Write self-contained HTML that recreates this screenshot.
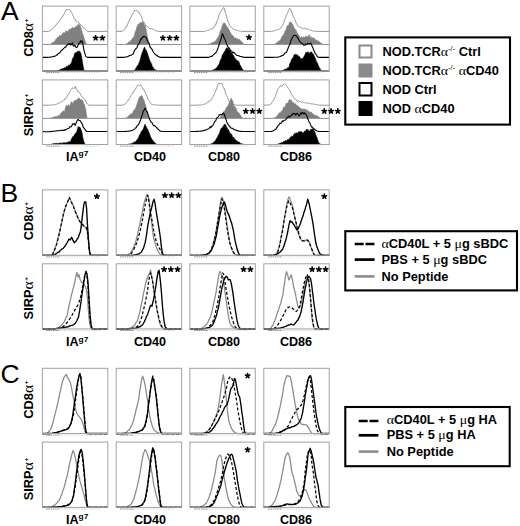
<!DOCTYPE html>
<html><head><meta charset="utf-8">
<style>
html,body{margin:0;padding:0;background:#fff;}
svg{display:block;}
text{font-family:"Liberation Sans",sans-serif;}
.b{font-weight:bold;font-size:12px;}
.L{font-size:26.5px;}
.al{font-family:"Liberation Serif",serif;font-weight:normal;}
.sup{font-size:6px;}
.st{font-family:"Liberation Sans",sans-serif;font-weight:bold;font-size:15px;}
</style></head><body>
<svg width="520" height="526" viewBox="0 0 520 526">
<rect width="520" height="526" fill="#fff"/>
<g>
<path d="M42.4,31.4 L48.8,31.4 L48.8,31.4 L49.5,31 L50.2,30.6 L51,30.3 L51.7,29.9 L52.4,29 L53.1,27.9 L53.9,27.3 L54.6,27 L55.3,25.3 L56,25.3 L56.7,24.7 L57.5,22.9 L58.2,22.7 L58.9,21.2 L59.6,20.4 L60.3,19 L60.9,18.7 L61.5,17.5 L62.1,17.6 L62.8,15.9 L63.5,15.6 L64.2,13.7 L64.9,12.2 L65.6,10.7 L66.4,9.6 L67.1,9.2 L67.8,10.2 L68.5,9.6 L69.5,9.6 L70.4,10.3 L71.4,12.6 L72.1,13.4 L72.8,14.8 L73.5,16.4 L74.1,18.7 L74.8,19.7 L75.4,19.5 L76,21.1 L76.6,21.9 L77.2,21.6 L77.9,22.3 L78.6,22.2 L79.3,23.8 L80.1,23.9 L80.7,24.8 L81.3,26 L81.9,26.1 L82.5,26.6 L83.1,27.8 L83.7,28.5 L84.4,28.1 L85,28.8 L85.7,29.7 L86.3,30.4 L86.9,30.8 L87.6,31.1 L88.2,31.4 L88.2,31.4 L107.8,31.4" fill="none" stroke="#8c8c8c" stroke-width="0.9" stroke-linejoin="round"/>
<path d="M42.4,44.5 L49.8,44.5 L49.8,44.5 L50.4,44 L51.1,43.6 L51.7,43.3 L52.3,42.7 L53,42.4 L53.6,42 L54.3,41.5 L55.1,40.7 L55.8,39.2 L56.5,39.1 L57.2,37.5 L57.9,37 L58.7,37.7 L59.4,35.4 L60.1,35.5 L60.8,36 L61.5,35.1 L62.3,33.8 L62.9,33.3 L63.5,32.4 L64.1,33.3 L64.7,32.5 L65.3,32.6 L65.9,30.8 L66.5,30.9 L67.1,31.1 L68,32.3 L68.8,29.7 L69.5,29.2 L70.1,28.9 L70.7,29.8 L71.3,28.5 L71.9,27.8 L72.6,27.6 L73.3,27.9 L74,28.1 L74.8,27.3 L75.4,27.2 L76,26.2 L76.6,26.5 L77.2,25.2 L77.9,25.4 L78.6,23.9 L79.3,24.6 L80.1,25.9 L80.8,27.6 L81.5,29.9 L82.1,32.5 L82.8,34.3 L83.4,35.6 L84.1,38.3 L84.9,40.5 L85.6,42.2 L86.3,44 L86.8,44.5 L86.8,44.5 L107.8,44.5 Z" fill="#808080" stroke="#808080" stroke-width="0.6"/>
<path d="M42.4,57.4 L47.8,57.4 L47.8,57.4 L48.5,57.3 L49.1,57.2 L49.8,57.2 L50.4,57.1 L51.1,57 L51.7,56.9 L52.3,56.7 L53,56.6 L53.6,56.4 L54.3,56.4 L54.9,56.3 L55.5,55.9 L56.1,55.5 L56.7,54.8 L57.3,55.1 L57.9,53.9 L58.5,53.4 L59.1,53.2 L59.7,52.8 L60.3,52.1 L60.9,50.9 L61.5,50.6 L62.1,50 L62.8,49.3 L63.4,48.7 L64,48.1 L64.7,47.3 L65.3,47.1 L66,46.9 L66.6,45.1 L67.3,45 L68,44.1 L68.8,44.4 L69.5,43.6 L70.2,43.6 L70.9,45 L71.6,44.6 L72.4,42.8 L73.3,46 L74,46.1 L74.8,45.2 L75.5,46.4 L76.2,47.5 L76.9,47.4 L77.7,45.9 L78.4,44.3 L79.1,43.2 L79.8,42.8 L80.5,41 L81.3,41.8 L82,40.8 L82.9,44.2 L83.9,49.8 L84.9,53.6 L85.8,56.3 L86.5,56.9 L87.3,57.4 L87.3,57.4 L107.8,57.4" fill="none" stroke="#000" stroke-width="1.1" stroke-linejoin="round"/>
<path d="M42.4,71 L56.5,71 L56.5,71 L57.1,70.8 L57.8,70.6 L58.4,70.5 L59.1,70.1 L59.7,69.9 L60.3,69.6 L61,69.1 L61.6,68.7 L62.3,69.1 L62.9,68.5 L63.6,68.3 L64.2,68 L64.8,67.6 L65.5,68 L66.1,66.9 L66.8,66 L67.4,66.4 L68,65.9 L68.8,65 L69.5,65.6 L70.2,64.1 L70.9,63.8 L71.6,62.6 L72.4,59.2 L73.1,57.6 L73.8,56.9 L74.5,53.8 L75.2,53 L76,52.6 L76.7,52.2 L77.4,51.4 L78.1,50.9 L78.9,51.4 L79.6,51.2 L80.3,52.2 L81,54.1 L82,59.2 L82.9,64.9 L83.6,68.5 L84.2,71 L84.2,71 L107.8,71 Z" fill="#000" stroke="#000" stroke-width="0.6"/>
</g>
<rect x="42.4" y="6.1" width="65.4" height="64.9" fill="none" stroke="#a2a2a2" stroke-width="1"/>
<line x1="46.0" y1="72.6" x2="59.0" y2="72.6" stroke="#8a8a8a" stroke-width="1" stroke-dasharray="1.6,0.7"/>
<line x1="59.0" y1="72.6" x2="100.0" y2="72.6" stroke="#c4c4c4" stroke-width="0.9" stroke-dasharray="1.2,1.3"/>
<g>
<path d="M116.2,31.4 L122.1,31.4 L122.1,31.4 L122.8,30.9 L123.4,30.3 L124.1,30.1 L124.8,29.4 L125.4,28 L126.1,26.3 L126.8,26.6 L127.5,24.9 L128.1,22.9 L128.8,22 L129.5,20 L130.2,18.3 L130.8,16.9 L131.5,16.6 L132.2,14.2 L132.8,13.9 L133.5,12 L134.2,11.6 L134.9,10 L135.5,10.7 L136.2,10.2 L136.9,11 L137.6,11.1 L138.2,11.8 L138.9,12 L139.6,13.9 L140.2,14.2 L140.9,15.7 L141.6,16.9 L142.3,19.2 L142.9,20.5 L143.6,21.4 L144.3,23.3 L145,23.9 L145.6,25.5 L146.3,26 L147,25.9 L147.7,26.7 L148.3,27.3 L149,28.2 L149.7,28.6 L150.3,28.6 L151,29 L151.7,28.4 L152.4,29.4 L153,29.1 L153.7,29.5 L154.4,30.3 L155.1,30.4 L155.7,30.8 L156.4,30.9 L157.1,31.1 L157.8,31.2 L158.4,31.4 L158.4,31.4 L181.6,31.4" fill="none" stroke="#8c8c8c" stroke-width="0.9" stroke-linejoin="round"/>
<path d="M116.2,44.5 L125.4,44.5 L125.4,44.5 L126.1,44 L126.8,43.6 L127.5,43.3 L128.1,42.8 L128.8,41.8 L129.5,42.2 L130.2,41.6 L130.8,40.3 L131.5,39.9 L132.2,39.1 L132.8,37.7 L133.5,37.4 L134.2,35.9 L134.9,32.9 L135.5,31.2 L136.2,29.8 L136.9,26.6 L137.6,26.1 L138.2,24 L138.9,24.1 L139.6,23.2 L140.2,22.4 L140.9,23 L141.6,22.8 L142.3,21.4 L142.9,22.6 L143.6,22.6 L144.3,25 L145,25.7 L145.6,27.1 L146.3,30.8 L147,35 L147.7,37.5 L148.3,40.9 L149,42.3 L149.7,44.5 L149.7,44.5 L181.6,44.5 Z" fill="#808080" stroke="#808080" stroke-width="0.6"/>
<path d="M116.2,57.4 L123.4,57.4 L123.4,57.4 L124.1,57.3 L124.8,57.2 L125.4,57.1 L126.1,57 L126.8,56.8 L127.5,56.8 L128.1,56.4 L128.8,56 L129.5,55.5 L130.2,55.3 L130.8,55.2 L131.5,55.2 L132.2,54.2 L132.8,54.2 L133.5,53.3 L134.2,51.3 L134.9,49.9 L135.5,49.2 L136.2,48.4 L136.9,47.8 L137.6,45.8 L138.2,44.3 L138.9,43.6 L139.6,42.6 L140.2,40.5 L140.9,38.9 L141.6,39.1 L142.3,37.2 L142.9,37.3 L143.6,36.4 L144.3,36.6 L145,36.8 L145.6,37 L146.3,37.6 L147,39.9 L147.7,41.1 L148.3,42.7 L149,43.4 L149.7,45.7 L150.3,47.5 L151,48 L151.7,48.9 L152.4,50 L153,51.5 L153.7,52.5 L154.4,53.5 L155.1,54.2 L155.7,54.4 L156.4,55.3 L157.1,55.4 L157.8,56.4 L158.4,56.6 L159.1,56.9 L159.8,57.1 L160.4,57.2 L161.1,57.4 L161.1,57.4 L181.6,57.4" fill="none" stroke="#000" stroke-width="1.1" stroke-linejoin="round"/>
<path d="M116.2,71 L132.8,71 L132.8,71 L133.5,70.6 L134.2,70 L134.9,70 L135.5,69.2 L136.2,67.7 L136.9,66.4 L137.6,65.6 L138.2,64.9 L138.9,63 L139.6,61.8 L140.2,59.8 L140.9,56.8 L141.6,54.2 L142.5,52 L143.3,49.7 L144,48.1 L144.7,47.1 L145.5,50.3 L146.3,50.3 L147,52.1 L147.7,54.6 L148.3,56 L149,58.2 L149.7,60.3 L150.3,61.4 L151,63.1 L151.7,64.3 L152.4,66.9 L153,67.2 L153.7,68.3 L154.4,69.2 L155.1,69.9 L155.7,70 L156.4,70.5 L157.1,71 L157.1,71 L181.6,71 Z" fill="#000" stroke="#000" stroke-width="0.6"/>
</g>
<rect x="116.2" y="6.1" width="65.4" height="64.9" fill="none" stroke="#a2a2a2" stroke-width="1"/>
<line x1="120.0" y1="72.6" x2="133.0" y2="72.6" stroke="#8a8a8a" stroke-width="1" stroke-dasharray="1.6,0.7"/>
<line x1="133.0" y1="72.6" x2="174.0" y2="72.6" stroke="#c4c4c4" stroke-width="0.9" stroke-dasharray="1.2,1.3"/>
<g>
<path d="M189.9,31.4 L204.2,31.4 L204.2,31.4 L204.8,31.2 L205.5,31.1 L206.2,30.9 L206.8,30.9 L207.5,30.5 L208.2,30.3 L208.9,30.2 L209.5,29.8 L210.2,29.4 L210.9,29.2 L211.6,29.3 L212.2,28.2 L212.9,27.8 L213.6,28.2 L214.2,26.7 L214.9,25.2 L215.6,25.1 L216.3,23 L216.9,21.7 L217.6,19.6 L218.3,18.3 L219,15.1 L219.6,13.6 L220.3,12 L221,11.6 L221.7,10 L222.3,9.3 L223,8.7 L223.7,7.4 L224.6,10 L225.7,13.5 L226.4,16.4 L227,18.6 L227.7,21 L228.4,22.1 L229.1,23.9 L229.7,25.5 L230.4,26.3 L231.1,27.1 L231.8,27.2 L232.4,28.3 L233.1,28.6 L233.8,29.7 L234.4,29.9 L235.1,29.6 L235.8,29.8 L236.5,30.1 L237.1,30.5 L237.8,30.6 L238.5,30.8 L239.2,31 L239.8,31.1 L240.5,31.2 L241.2,31.3 L241.8,31.4 L241.8,31.4 L255.3,31.4" fill="none" stroke="#8c8c8c" stroke-width="0.9" stroke-linejoin="round"/>
<path d="M189.9,44.5 L206.8,44.5 L206.8,44.5 L207.5,44.3 L208.2,44.1 L208.9,44 L209.5,43.9 L210.2,43.7 L210.9,43.3 L211.6,43.3 L212.2,42.5 L212.9,42.5 L213.6,42.1 L214.2,42.1 L214.9,41.6 L215.6,40.7 L216.3,40.4 L216.9,38.5 L217.6,38.2 L218.3,36.7 L219,35.2 L219.6,34.2 L220.3,30.5 L221,30.3 L221.7,28 L222.5,25 L223.3,23.3 L224.3,23.2 L225,22.9 L225.7,24.7 L226.4,25.9 L227,27.1 L227.7,27.2 L228.4,29.2 L229.1,30.1 L229.7,31.1 L230.4,32.4 L231.1,33.8 L231.8,35.5 L232.4,35 L233.1,36.3 L233.8,36.4 L234.4,38.5 L235.1,37.9 L235.8,38 L236.5,38.9 L237.1,38.2 L237.8,38.9 L238.5,40.1 L239.2,39.3 L239.8,39.6 L240.5,40.9 L241.2,41 L241.8,41.8 L242.5,43.1 L243.2,43.1 L243.9,43.9 L244.5,44.5 L244.5,44.5 L255.3,44.5 Z" fill="#808080" stroke="#808080" stroke-width="0.6"/>
<path d="M189.9,57.4 L208.2,57.4 L208.2,57.4 L208.9,57.2 L209.5,57 L210.2,56.8 L210.9,56.4 L211.6,56.4 L212.2,56.1 L212.9,55.4 L213.6,54.7 L214.2,54.2 L214.9,53.3 L215.6,53.2 L216.3,51.8 L216.9,51 L217.6,49 L218.3,47.1 L219,45.3 L219.6,42.7 L220.5,40.6 L221.4,37.6 L222.3,33.5 L223.3,35.5 L224.3,38.3 L225.4,40 L226.4,43.8 L227,45 L227.7,46.1 L228.4,48.2 L229.1,47.8 L229.7,48.9 L230.4,50.1 L231.1,50.8 L231.8,51 L232.4,52.7 L233.1,53 L233.8,52.2 L234.4,53.2 L235.1,53.8 L235.8,54.2 L236.5,55.2 L237.1,55.5 L237.8,55.5 L238.5,55.8 L239.2,55.9 L239.8,56.2 L240.5,56.5 L241.2,56.5 L241.8,56.8 L242.5,56.9 L243.2,57.1 L243.9,57.2 L244.5,57.4 L244.5,57.4 L255.3,57.4" fill="none" stroke="#000" stroke-width="1.1" stroke-linejoin="round"/>
<path d="M189.9,71 L210.9,71 L210.9,71 L211.6,70.7 L212.2,70.5 L212.9,70.1 L213.6,69.7 L214.2,69.6 L214.9,69.3 L215.6,68.5 L216.3,68.2 L216.9,67.2 L217.6,66.7 L218.3,64.9 L219,64.8 L219.6,62.5 L220.3,60.3 L221,59.2 L221.7,57.8 L222.3,54.8 L223,54.3 L223.7,53 L224.3,51.7 L225,50.8 L225.7,49.5 L226.4,47.9 L227,48 L227.7,48.2 L228.4,49.6 L229.1,49.5 L229.7,49.7 L230.4,50.6 L231.1,52.3 L231.8,53 L232.4,54.3 L233.1,55 L233.8,56 L234.4,57.3 L235.1,58.5 L235.8,59.1 L236.5,60 L237.1,60.7 L237.8,60.7 L238.5,61.2 L239.2,62.6 L239.8,64.7 L240.5,65.5 L241.2,66.8 L241.8,68 L242.5,69.2 L243.2,70 L243.9,71 L243.9,71 L255.3,71 Z" fill="#000" stroke="#000" stroke-width="0.6"/>
</g>
<rect x="189.9" y="6.1" width="65.4" height="64.9" fill="none" stroke="#a2a2a2" stroke-width="1"/>
<line x1="194.0" y1="72.6" x2="207.0" y2="72.6" stroke="#8a8a8a" stroke-width="1" stroke-dasharray="1.6,0.7"/>
<line x1="207.0" y1="72.6" x2="248.0" y2="72.6" stroke="#c4c4c4" stroke-width="0.9" stroke-dasharray="1.2,1.3"/>
<g>
<path d="M263.8,31.4 L271.4,31.4 L271.4,31.4 L272.1,31.2 L272.8,31.1 L273.4,30.9 L274.1,30.8 L274.8,30.7 L275.5,30.3 L276.1,30 L276.8,30 L277.5,29.5 L278.2,29.8 L278.8,29.2 L279.5,29.1 L280.2,28.1 L280.8,28.2 L281.5,26.6 L282.2,26.2 L282.9,24.9 L283.5,23.5 L284.2,21.1 L284.9,19.2 L285.6,17.6 L286.2,15.6 L286.9,13.8 L287.6,13.5 L288.2,10.9 L288.9,9.6 L289.6,8 L290.5,9.4 L291.2,11.2 L291.9,12.9 L292.8,15.4 L293.6,17 L294.3,18.4 L295,19.7 L295.7,21.5 L296.3,23.4 L297,24.7 L297.7,26.1 L298.3,26.3 L299,27 L299.7,26.9 L300.4,27.2 L301,27.3 L301.7,28.4 L302.4,28.4 L303.1,28.2 L303.7,28.6 L304.4,28.8 L305.1,28.7 L305.8,28 L306.4,29 L307.1,29 L307.8,28.9 L308.4,29.5 L309.1,29.8 L309.8,29.8 L310.5,30.2 L311.1,30.3 L311.8,30.5 L312.5,30.8 L313.2,31 L313.8,31.1 L314.5,31.2 L315.2,31.3 L315.8,31.4 L315.8,31.4 L329.2,31.4" fill="none" stroke="#8c8c8c" stroke-width="0.9" stroke-linejoin="round"/>
<path d="M263.8,44.5 L274.1,44.5 L274.1,44.5 L274.8,44.1 L275.5,43.7 L276.1,43.1 L276.8,42.7 L277.5,42.2 L278.2,41.7 L278.8,40.6 L279.5,41.5 L280.2,40 L280.8,39.3 L281.5,37.7 L282.2,36.1 L282.9,36.1 L283.5,34.5 L284.2,33.4 L284.9,31.8 L285.6,30.2 L286.2,29.3 L286.9,26.4 L287.6,25.4 L288.2,25.4 L288.9,24.5 L289.6,22 L290.3,22.3 L290.9,22 L291.6,23 L292.3,24.3 L293,24.8 L293.6,26.7 L294.3,28.3 L295,29.1 L295.7,29.9 L296.3,30.4 L297,33 L297.7,33.5 L298.3,34.3 L299,35.5 L299.7,37.3 L300.4,37.9 L301,36.8 L301.7,36.8 L302.4,37.9 L303.1,38 L303.7,36.5 L304.4,38.1 L305.1,36.8 L305.8,37 L306.4,35.9 L307.1,36.7 L307.8,36.7 L308.4,37.1 L309.1,34.5 L310.2,37.5 L310.9,36.5 L311.7,38.4 L312.4,38.2 L313.2,37.8 L313.8,37.4 L314.5,39.6 L315.2,39 L315.8,40.2 L316.5,40.3 L317.2,41.3 L317.9,40.4 L318.5,41.2 L319.2,41.8 L319.9,42.1 L320.6,43.2 L321.2,43.2 L321.9,43.6 L322.6,44.1 L323.2,44.5 L323.2,44.5 L329.2,44.5 Z" fill="#808080" stroke="#808080" stroke-width="0.6"/>
<path d="M263.8,57.4 L272,57.4 L272,57.4 L272.6,57.4 L273.3,57.4 L273.9,57.3 L274.6,57.3 L275.2,57.3 L275.8,57.3 L276.5,57.3 L277.1,57.2 L277.8,57.2 L278.4,57 L279.1,56.8 L279.7,56.7 L280.3,56.5 L281,56 L281.6,56 L282.3,55.3 L283.1,55.4 L283.8,54.7 L284.5,53.4 L285.1,52.8 L285.8,52.7 L286.4,52.6 L287.1,50.8 L287.9,48.8 L288.6,46.7 L289.3,45.4 L290,44.1 L290.8,40.8 L291.5,39.5 L292.2,37.7 L292.9,37 L293.6,35.4 L294.6,35.4 L295.6,35.5 L296.5,36 L297.5,37.3 L298.2,38.5 L298.9,39.9 L299.6,41.2 L300.2,42 L300.8,42.7 L301.5,43 L302.1,43.4 L302.8,43.7 L303.4,45 L304.1,45.2 L304.7,45.1 L305.4,44 L306.1,44.8 L306.9,44.5 L307.6,43.3 L308.3,43.7 L309,43.5 L309.7,44 L310.5,43.1 L311.4,44.1 L312.1,46.2 L312.9,47.7 L313.6,50 L314.3,51.3 L315,53.2 L315.8,54.2 L316.5,54.9 L317.2,56.5 L317.9,56.9 L318.6,57.4 L318.6,57.4 L329.2,57.4" fill="none" stroke="#000" stroke-width="1.1" stroke-linejoin="round"/>
<path d="M263.8,71 L281.1,71 L281.1,71 L281.7,70.7 L282.3,70.5 L282.9,70.2 L283.5,70.1 L284.3,69.4 L285,69.6 L285.7,68.8 L286.4,68.9 L287,69.1 L287.6,67.8 L288.2,67.4 L288.8,68 L289.8,63.5 L290.8,62 L291.7,59.2 L292.7,57.8 L293.4,57.2 L294.1,54.7 L294.8,54.8 L295.6,54.2 L296.2,55.1 L296.8,54.4 L298,55.8 L298.9,56.3 L299.9,57 L300.8,59.5 L301.8,58.2 L302.8,58.6 L303.5,57.4 L304.2,55.9 L305.2,54.3 L305.9,52.3 L306.6,53 L307.8,51.7 L308.4,52.2 L309,52.7 L310,53.4 L310.9,51.6 L311.9,52.6 L312.9,53.7 L313.6,54.7 L314.3,56.3 L315,57.6 L315.8,59.7 L316.5,62.3 L317.2,62.5 L318.2,65.2 L319.1,67.3 L320.1,68.7 L321,70.4 L321.8,71 L321.8,71 L329.2,71 Z" fill="#000" stroke="#000" stroke-width="0.6"/>
</g>
<rect x="263.8" y="6.1" width="65.4" height="64.9" fill="none" stroke="#a2a2a2" stroke-width="1"/>
<line x1="268.0" y1="72.6" x2="281.0" y2="72.6" stroke="#8a8a8a" stroke-width="1" stroke-dasharray="1.6,0.7"/>
<line x1="281.0" y1="72.6" x2="322.0" y2="72.6" stroke="#c4c4c4" stroke-width="0.9" stroke-dasharray="1.2,1.3"/>
<g>
<path d="M42.4,105.2 L48.1,105.2 L48.1,105.2 L48.8,105.2 L49.4,105.1 L50.1,105.1 L50.8,105.1 L51.4,105 L52.1,105 L52.8,105 L53.5,104.9 L54.1,104.8 L54.8,104.5 L55.5,104.5 L56.2,104.3 L56.8,104.1 L57.5,103.7 L58.2,103.3 L58.8,103.3 L59.5,103 L60.2,102.6 L60.9,101.8 L61.5,101.7 L62.2,101.6 L62.9,100.7 L63.6,99.9 L64.2,100 L64.9,98.8 L65.6,98.8 L66.2,98.3 L66.9,96.9 L67.6,95.2 L68.3,94.1 L68.9,93.4 L69.6,92.3 L70.3,90.7 L71,89.8 L71.6,89.1 L72.3,88.1 L73,87.8 L73.7,88.5 L74.5,88.3 L75.3,86.3 L76.3,89.2 L77,89.6 L77.7,91.5 L78.4,91.2 L79,92.3 L79.7,92.8 L80.4,94.1 L81.1,95.4 L81.7,96.1 L82.4,97.6 L83.1,97.7 L83.8,98.5 L84.4,99.5 L85.1,100.1 L85.8,101.2 L86.4,103.2 L87.1,103.4 L87.8,104.5 L88.5,104.9 L89.1,105.2 L89.1,105.2 L107.8,105.2" fill="none" stroke="#8c8c8c" stroke-width="0.9" stroke-linejoin="round"/>
<path d="M42.4,118.4 L49.8,118.4 L49.8,118.4 L50.4,118.2 L51.1,118 L51.7,117.9 L52.3,117.5 L53,117.4 L53.6,117 L54.3,116.9 L54.9,116.8 L55.5,116.4 L56.2,116.8 L56.8,116.6 L57.5,116.4 L58.1,115.4 L58.8,115.5 L59.5,115.9 L60.2,114.3 L60.8,113.4 L61.8,112.1 L62.5,112.3 L63.2,110.5 L64,111.8 L64.7,111.2 L65.6,107.1 L66.6,105 L67.6,106.6 L68.5,104.7 L69.5,106.4 L70.4,104.1 L71.4,101.8 L72.1,102.1 L72.8,104.2 L73.8,101.3 L74.8,100.4 L75.5,99.9 L76.2,100.9 L77.2,99.3 L77.9,98.5 L78.6,98.1 L79.3,98.3 L80.1,99.2 L81,99.7 L81.7,100.1 L82.5,100 L83.4,102.7 L84.4,104.7 L85.1,107.3 L85.8,109.6 L86.3,113.7 L87.1,118.4 L87.1,118.4 L107.8,118.4 Z" fill="#808080" stroke="#808080" stroke-width="0.6"/>
<path d="M42.4,131.5 L44,131.5 L44,131.8 L44.6,131.8 L45.2,131.8 L45.8,131.8 L46.4,131.8 L47,131.8 L47.6,131.8 L48.2,131.8 L48.8,131.8 L49.4,131.7 L50,131.6 L50.6,131.6 L51.2,131.5 L51.8,131.4 L52.4,131.4 L53,131.3 L53.6,131.2 L54.2,131.2 L54.8,131.1 L55.4,131 L56,131 L56.6,130.9 L57.2,130.8 L57.8,130.7 L58.4,130.7 L59,130.6 L59.6,130.8 L60.2,130.6 L60.8,130.3 L61.4,130.2 L62,130.5 L62.6,130.2 L63.2,130.4 L64,130.1 L64.7,129.9 L65.4,130.1 L66.1,129.5 L66.8,129.1 L67.6,128.8 L68.3,128.5 L69,128.3 L69.7,126.8 L70.4,127.1 L71.2,126.7 L71.9,125.4 L72.8,123.9 L73.6,124 L74.3,123.5 L75.2,125.4 L76.2,122.7 L77.2,120.5 L78.1,119.4 L79,120.5 L79.8,120.5 L80.5,121.1 L81.5,122.9 L82.5,124.5 L83.2,127.2 L83.9,127.9 L84.6,128.8 L85.3,130 L86.1,130.8 L86.8,131.5 L86.8,131.5 L107.8,131.5" fill="none" stroke="#000" stroke-width="1.1" stroke-linejoin="round"/>
<path d="M42.4,144.5 L51.2,144.5 L51.2,144.5 L51.9,144.1 L52.7,143.8 L53.4,143.8 L54.1,143.5 L54.8,143.4 L55.5,143.4 L56.2,143.5 L56.8,143.2 L57.5,143.5 L58.1,143.6 L58.7,143.5 L59.4,143 L60,143.1 L60.7,143.3 L61.3,143.2 L61.9,143.3 L62.6,142.9 L63.2,142.8 L63.9,142.7 L64.5,142.7 L65.2,142.8 L65.8,142.9 L66.4,142.5 L67.1,142.5 L67.8,142.3 L68.5,141.9 L69.2,141.5 L70,141.6 L70.7,141.4 L71.4,139 L72.1,138 L72.8,136.4 L73.6,136.6 L74.3,135 L75,133.7 L75.7,133.3 L76.5,132.3 L77.2,130 L78.1,126.8 L79.1,127 L80.1,127.5 L81,129.5 L82,132.8 L82.9,137.9 L83.9,141.9 L84.9,144 L85.5,144.5 L85.5,144.5 L107.8,144.5 Z" fill="#000" stroke="#000" stroke-width="0.6"/>
</g>
<rect x="42.4" y="79.9" width="65.4" height="64.6" fill="none" stroke="#a2a2a2" stroke-width="1"/>
<line x1="46.0" y1="146.1" x2="59.0" y2="146.1" stroke="#8a8a8a" stroke-width="1" stroke-dasharray="1.6,0.7"/>
<line x1="59.0" y1="146.1" x2="100.0" y2="146.1" stroke="#c4c4c4" stroke-width="0.9" stroke-dasharray="1.2,1.3"/>
<g>
<path d="M116.2,105.2 L122.1,105.2 L122.1,105.2 L122.8,105 L123.4,104.9 L124.1,104.7 L124.8,104.4 L125.4,104 L126.1,103.1 L126.8,102.2 L127.5,101.3 L128.1,100.1 L128.8,99.8 L129.5,98.4 L130.2,97.2 L130.8,95.9 L131.5,94.7 L132.2,93.7 L132.8,92.4 L133.5,92.4 L134.2,90.4 L134.9,89.4 L135.5,89.4 L136.2,87.7 L136.9,86.3 L137.6,85.2 L138.5,85.3 L139.6,85.6 L140.7,84.5 L141.5,86.1 L142.3,87.5 L142.9,89.3 L143.6,89.1 L144.3,90.4 L145,92.2 L145.6,93.1 L146.3,95.1 L147,96 L147.7,97.8 L148.3,99.6 L149,100.6 L149.7,101.7 L150.3,103.3 L151,103.8 L151.7,104.2 L152.4,104.5 L153,104.6 L153.7,104.7 L154.4,104.8 L155.1,104.8 L155.7,104.9 L156.4,105 L157.1,105 L157.8,105.1 L158.4,105.1 L159.1,105.2 L159.8,105.2 L159.8,105.2 L181.6,105.2" fill="none" stroke="#8c8c8c" stroke-width="0.9" stroke-linejoin="round"/>
<path d="M116.2,118.4 L124.8,118.4 L124.8,118.4 L125.4,118.1 L126.1,117.9 L126.8,117.7 L127.5,117.3 L128.1,116.2 L128.8,116 L129.5,115.2 L130.2,114 L130.8,114.1 L131.5,113.9 L132.2,113.9 L132.8,112.2 L133.5,111.1 L134.2,109.9 L134.9,109.1 L135.5,108.5 L136.2,106.6 L136.9,104.3 L137.6,102.6 L138.2,100.2 L138.9,98.6 L139.6,96.9 L140.2,96.6 L140.9,95.9 L141.6,95.4 L142.3,96.2 L142.9,98.3 L143.6,99.3 L144.3,101 L145,103.7 L145.6,104.7 L146.6,109.4 L147.7,114.9 L148.7,118.4 L148.7,118.4 L181.6,118.4 Z" fill="#808080" stroke="#808080" stroke-width="0.6"/>
<path d="M116.2,131.5 L124.8,131.5 L124.8,131.5 L125.4,131.4 L126.1,131.4 L126.8,131.3 L127.5,131.2 L128.1,131.2 L128.8,131.1 L129.5,131 L130.2,130.9 L130.8,130.7 L131.5,130.7 L132.2,130.3 L132.8,130.3 L133.5,129.7 L134.2,129.4 L134.9,128.9 L135.5,127.7 L136.2,127.8 L136.9,126.2 L137.6,125.3 L138.2,124.8 L139,123.8 L139.8,121.8 L140.7,119.5 L141.6,116.8 L142.5,114.4 L143.3,110.8 L144.2,109.9 L145,108.1 L145.6,109.8 L146.3,110.8 L147,111.6 L147.7,113.1 L148.3,115.4 L149,117.5 L149.7,119.5 L150.3,120.5 L151,122.1 L151.7,122.3 L152.4,123.4 L153,124.8 L153.7,125.7 L154.4,125.5 L155.1,126.1 L155.7,126.7 L156.4,127.5 L157.1,127.9 L157.8,129 L158.4,129.6 L159.1,130 L159.8,130.8 L160.4,131.1 L161.1,131.3 L161.8,131.5 L161.8,131.5 L181.6,131.5" fill="none" stroke="#000" stroke-width="1.1" stroke-linejoin="round"/>
<path d="M116.2,144.5 L127.5,144.5 L127.5,144.5 L128.1,144.3 L128.8,144.2 L129.5,144 L130.2,143.8 L130.8,143.9 L131.5,143.5 L132.2,143.2 L132.8,143.2 L133.5,142.9 L134.2,141.9 L134.9,141.7 L135.5,141.8 L136.2,141.2 L136.9,139.7 L137.6,139.4 L138.2,138 L138.9,137.1 L139.6,134.6 L140.2,134.8 L140.9,132.6 L141.6,131.1 L142.3,130.5 L142.9,129.5 L143.6,128.3 L144.3,126.1 L145,124.2 L145.6,126 L146.3,126.6 L147,128.9 L147.7,128.9 L148.3,131.3 L149,131.9 L149.7,134.5 L150.3,136 L151,137.7 L151.7,138.8 L152.4,140.2 L153,140.5 L153.7,141.5 L154.4,142.2 L155.1,143.2 L155.7,143.5 L156.4,144.1 L157.1,144.5 L157.1,144.5 L181.6,144.5 Z" fill="#000" stroke="#000" stroke-width="0.6"/>
</g>
<rect x="116.2" y="79.9" width="65.4" height="64.6" fill="none" stroke="#a2a2a2" stroke-width="1"/>
<line x1="120.0" y1="146.1" x2="133.0" y2="146.1" stroke="#8a8a8a" stroke-width="1" stroke-dasharray="1.6,0.7"/>
<line x1="133.0" y1="146.1" x2="174.0" y2="146.1" stroke="#c4c4c4" stroke-width="0.9" stroke-dasharray="1.2,1.3"/>
<g>
<path d="M189.9,105.2 L196.1,105.2 L196.1,105.2 L196.8,105.2 L197.4,105.1 L198.1,105.1 L198.8,105.1 L199.4,105 L200.1,105 L200.8,105 L201.5,104.9 L202.1,104.8 L202.8,104.5 L203.5,104.3 L204.2,104.4 L204.8,103.9 L205.5,104 L206.2,103.4 L206.8,103.3 L207.5,102.2 L208.2,101.9 L208.9,100.9 L209.5,101.3 L210.2,100.7 L210.9,99.6 L211.6,99.5 L212.2,97.7 L212.9,96.4 L213.6,95.8 L214.2,93.8 L214.9,92.7 L215.7,90.8 L216.5,89.5 L217.2,86.9 L217.9,84.6 L219,83 L220,84.2 L220.7,83.4 L221.4,83.5 L222.1,83.9 L222.7,85.7 L223.5,87.6 L224.3,89 L225.2,91.4 L226,94.8 L226.8,95.7 L227.7,97.7 L228.4,99.5 L229.1,101.5 L229.7,102.1 L230.4,102.3 L231.1,103.1 L231.8,103.5 L232.4,103.9 L233.1,104.2 L233.8,104.5 L234.4,104.7 L235.1,104.9 L235.8,105 L236.5,105.2 L236.5,105.2 L255.3,105.2" fill="none" stroke="#8c8c8c" stroke-width="0.9" stroke-linejoin="round"/>
<path d="M189.9,118.4 L219,118.4 L219,118.4 L219.6,117.6 L220.3,117.1 L221,116.5 L221.7,114.9 L222.3,114 L223,112.4 L223.7,111.5 L224.3,111.6 L225,110.3 L225.7,109.4 L226.4,107.4 L227,106.9 L227.7,106 L228.4,104.9 L229.1,103.1 L229.7,101.4 L230.4,100.1 L231.1,98.1 L231.8,99.5 L232.4,100.2 L233.1,102.3 L233.8,106.2 L234.4,105.9 L235.1,107.1 L235.8,107.9 L236.5,109.3 L237.1,111.8 L237.8,112 L238.5,112.8 L239.2,113 L239.8,115.2 L240.5,114.9 L241.2,116.4 L241.8,117.4 L242.5,117.9 L243.2,118.4 L243.2,118.4 L255.3,118.4 Z" fill="#808080" stroke="#808080" stroke-width="0.6"/>
<path d="M189.9,131.5 L196.1,131.5 L196.1,131.5 L196.8,131.4 L197.4,131.4 L198.1,131.3 L198.8,131.3 L199.4,131.2 L200.1,131.2 L200.8,131.1 L201.5,131.1 L202.1,130.9 L202.8,130.8 L203.5,130.6 L204.2,130.5 L204.8,130.1 L205.5,129.9 L206.2,130 L206.8,129.7 L207.5,129.1 L208.2,129 L208.9,128.8 L209.5,127.7 L210.2,126.7 L210.9,127.8 L211.6,126 L212.2,126.2 L212.9,125.3 L213.6,124.3 L214.2,122.7 L214.9,121.3 L215.6,121 L216.3,119.1 L216.9,118 L217.6,117.3 L218.4,116.6 L219.2,114.8 L220.1,114.9 L221,114.2 L221.7,114.8 L222.3,114.4 L223,113.4 L223.7,113.1 L224.6,115.3 L225.7,118.8 L226.4,120.6 L227,122.8 L227.7,124 L228.4,124.6 L229.1,125.9 L229.7,126.7 L230.4,126.9 L231.1,128.2 L231.8,128.2 L232.4,128.2 L233.1,128.7 L233.8,129.3 L234.4,129.5 L235.1,129.9 L235.8,130.3 L236.5,130.4 L237.1,130.5 L237.8,130.9 L238.5,130.9 L239.2,131.1 L239.8,131.2 L240.5,131.3 L241.2,131.4 L241.8,131.5 L241.8,131.5 L255.3,131.5" fill="none" stroke="#000" stroke-width="1.1" stroke-linejoin="round"/>
<path d="M189.9,144.5 L209.5,144.5 L209.5,144.5 L210.2,144.2 L210.9,144 L211.6,143.6 L212.2,143.4 L212.9,143.2 L213.6,142.3 L214.2,141.6 L214.9,141.1 L215.6,140.5 L216.3,138.5 L216.9,138.2 L217.6,136.9 L218.3,135.2 L219,134.1 L219.6,133.1 L220.3,130.3 L221,128.4 L221.7,128.3 L222.3,127.5 L223,126.6 L223.7,125.4 L224.3,124.2 L225,124.4 L225.7,124.8 L226.4,126.8 L227,127.4 L227.7,129.7 L228.4,129.5 L229.1,131.3 L229.7,132.5 L230.4,133.2 L231.1,133.9 L231.8,134.4 L232.4,136.4 L233.1,137.7 L233.8,137.3 L234.4,138.9 L235.1,139.5 L235.8,140.1 L236.5,140.6 L237.1,140.8 L237.8,141.7 L238.5,141.9 L239.2,142.3 L239.8,142.5 L240.5,143.4 L241.2,143.6 L241.8,143.9 L242.5,144 L243.2,144.2 L243.9,144.3 L244.5,144.5 L244.5,144.5 L255.3,144.5 Z" fill="#000" stroke="#000" stroke-width="0.6"/>
</g>
<rect x="189.9" y="79.9" width="65.4" height="64.6" fill="none" stroke="#a2a2a2" stroke-width="1"/>
<line x1="194.0" y1="146.1" x2="207.0" y2="146.1" stroke="#8a8a8a" stroke-width="1" stroke-dasharray="1.6,0.7"/>
<line x1="207.0" y1="146.1" x2="248.0" y2="146.1" stroke="#c4c4c4" stroke-width="0.9" stroke-dasharray="1.2,1.3"/>
<g>
<path d="M263.8,105.2 L266,105.2 L266,105.2 L266.7,105.1 L267.4,105 L268.1,104.9 L268.7,104.8 L269.4,104.6 L270.1,104.6 L270.8,103.7 L271.4,103.5 L272.1,102.2 L272.8,101.3 L273.4,100.1 L274.1,99.4 L274.8,97.5 L275.5,95.9 L276.1,93.5 L276.8,92.2 L277.5,89.9 L278.2,88.7 L278.8,88 L279.5,87.2 L280.2,85.6 L280.8,85.2 L281.5,86.3 L282.2,86 L282.9,84.8 L283.7,84.4 L284.6,83.7 L285.4,84.1 L286.2,85.1 L286.9,86.5 L287.6,87.1 L288.2,88.4 L288.9,89.2 L289.6,90.4 L290.3,91 L290.9,92.8 L291.6,94.5 L292.3,95.7 L293,96.1 L293.6,97.2 L294.3,98.5 L295,98.9 L295.7,99 L296.3,99.8 L297,101.1 L297.7,101.8 L298.3,100.8 L299,101.4 L299.7,101.1 L300.4,101.3 L301,102.5 L301.7,102.5 L302.4,101.7 L303.1,102.6 L303.7,102.4 L304.4,102.5 L305.1,102.8 L305.8,103 L306.4,103.2 L307.1,102.8 L307.8,103.1 L308.4,103.1 L309.1,103.6 L309.8,103.7 L310.5,103.5 L311.1,103.7 L311.8,104.1 L312.5,103.8 L313.2,104.1 L313.8,104.2 L314.5,104.4 L315.2,104.4 L315.8,104.5 L316.5,104.6 L317.2,104.8 L317.9,104.9 L318.5,105 L319.2,105.1 L319.9,105.2 L319.9,105.2 L329.2,105.2" fill="none" stroke="#8c8c8c" stroke-width="0.9" stroke-linejoin="round"/>
<path d="M263.8,118.4 L272.8,118.4 L272.8,118.4 L273.4,118.1 L274.1,117.9 L274.8,117.6 L275.5,117.5 L276.1,117 L276.8,115.9 L277.5,116 L278.2,113.8 L278.8,114.2 L279.5,112.6 L280.2,113.1 L280.8,112.1 L281.5,111 L282.2,110.8 L282.9,109.6 L283.5,106.8 L284.2,107.5 L284.9,106.8 L285.6,104.9 L286.2,103.5 L286.9,102.7 L287.6,103.5 L288.2,102.5 L288.9,100.4 L289.6,99.6 L290.3,100.1 L290.9,99.6 L291.6,101 L292.3,102 L293,103.2 L293.6,102.3 L294.3,104.1 L295,103.7 L295.7,103.8 L296.3,105.8 L297,104.9 L297.7,105.9 L298.3,106.2 L299,107.3 L299.7,107.9 L300.4,108.1 L301,108.4 L301.7,109.1 L302.4,109.7 L303.1,108.7 L303.7,109.5 L304.4,108.8 L305.1,110.4 L305.8,109.3 L306.4,110.8 L307.1,109.5 L307.8,111.3 L308.4,111.3 L309.1,111.2 L309.8,111.9 L310.5,112.9 L311.1,111.9 L311.8,112.5 L312.5,113.6 L313.2,113.9 L313.8,114.5 L314.5,114.9 L315.2,115 L315.8,115.7 L316.5,115.3 L317.2,116 L317.9,116.3 L318.5,117 L319.2,117.2 L319.9,117.9 L320.6,118.4 L320.6,118.4 L329.2,118.4 Z" fill="#808080" stroke="#808080" stroke-width="0.6"/>
<path d="M263.8,131.5 L271.4,131.5 L271.4,131.5 L272.1,131.2 L272.8,131 L273.4,130.5 L274.1,130.2 L274.8,129.6 L275.5,129.4 L276.1,129 L276.8,127.2 L277.5,126.9 L278.2,125.3 L278.8,125 L279.5,123.7 L280.2,123.2 L280.8,123.4 L281.5,122.8 L282.2,120.9 L282.9,121.6 L283.5,120.7 L284.2,120.3 L284.9,120.3 L285.6,119.7 L286.2,119.1 L286.9,118 L287.6,117.4 L288.2,116.7 L288.9,116.2 L289.6,117.2 L290.3,116.6 L290.9,115.7 L291.6,114.8 L292.3,114.9 L293.2,113.3 L294,113.7 L294.8,113.5 L295.7,115.2 L296.5,113.6 L297.3,113.3 L298.1,114.2 L299,116 L299.7,115.4 L300.4,113.9 L301,112.8 L301.7,113.8 L302.4,112.5 L303.1,113 L303.7,114 L304.4,112.9 L305.1,113.5 L305.8,114.3 L306.4,115.3 L307.1,116.6 L307.8,119.2 L308.4,119.8 L309.1,122.2 L309.8,122.8 L310.5,124.6 L311.1,126 L311.8,127.2 L312.5,127 L313.2,128.6 L313.8,128.7 L314.5,129.1 L315.2,130 L315.8,130.4 L316.5,130.6 L317.2,131 L317.9,131.2 L318.5,131.5 L318.5,131.5 L329.2,131.5" fill="none" stroke="#000" stroke-width="1.1" stroke-linejoin="round"/>
<path d="M263.8,144.5 L276.8,144.5 L276.8,144.5 L277.5,144.3 L278.2,144 L278.8,143.7 L279.5,143.4 L280.2,143.1 L280.8,143.2 L281.5,142.4 L282.2,142.7 L282.9,142 L283.5,141.4 L284.2,141.3 L284.9,141.5 L285.6,140.3 L286.2,141.2 L286.9,140.3 L287.6,139.4 L288.2,139.5 L288.9,139.4 L289.6,138.8 L290.3,136.9 L290.9,137.7 L291.6,136 L292.3,136.6 L293,136.4 L293.6,134.4 L294.3,134.9 L295,132.8 L295.7,133.9 L296.3,133.1 L297,132.7 L297.7,133.4 L298.3,132 L299,131.8 L299.7,131.7 L300.4,131.4 L301,131.8 L301.7,131.7 L302.4,133 L303.1,133.1 L303.7,132.3 L304.4,131.3 L305.1,130.9 L305.8,131 L306.4,129.2 L307.1,130.5 L307.8,129.1 L308.4,130.8 L309.1,130.4 L309.8,131.5 L310.5,129.5 L311.1,129.3 L311.8,129.3 L312.5,129.1 L313.2,128.9 L313.8,130.1 L314.5,131.5 L315.2,133 L315.8,135 L316.5,136.4 L317.2,138.3 L317.9,140.6 L318.5,141.9 L319.2,143.6 L319.9,143.8 L320.6,144.2 L321.2,144.5 L321.2,144.5 L329.2,144.5 Z" fill="#000" stroke="#000" stroke-width="0.6"/>
</g>
<rect x="263.8" y="79.9" width="65.4" height="64.6" fill="none" stroke="#a2a2a2" stroke-width="1"/>
<line x1="268.0" y1="146.1" x2="281.0" y2="146.1" stroke="#8a8a8a" stroke-width="1" stroke-dasharray="1.6,0.7"/>
<line x1="281.0" y1="146.1" x2="322.0" y2="146.1" stroke="#c4c4c4" stroke-width="0.9" stroke-dasharray="1.2,1.3"/>
<g>
<path d="M42.4,255.3 L51.4,255.3 L51.4,255.3 L52.1,254.1 L52.8,253.1 L53.5,252.2 L54.1,250.2 L54.8,248.5 L55.5,246.7 L56.2,245 L56.8,242.4 L57.5,239.6 L58.2,237 L58.8,234.4 L59.5,231.8 L60.2,228.8 L60.9,226.2 L61.5,223.9 L62.2,220.6 L62.9,217.3 L63.6,214.1 L64.2,211.8 L64.9,209.5 L65.6,207.3 L66.2,205.7 L66.9,203.6 L67.6,201.6 L68.3,199.9 L69.3,198 L70.3,199.3 L71,201 L71.6,202.1 L72.3,203.7 L73,204.9 L73.7,206.3 L74.3,208.6 L75,210.3 L75.7,211.7 L76.3,213.8 L77,215.6 L77.7,216.9 L78.4,218.4 L79,220.2 L79.7,221.5 L80.4,222.8 L81.1,223.4 L81.7,224.6 L82.4,225.2 L83.1,226 L83.7,226.2 L84.4,226.7 L85.1,226.8 L85.8,228 L86.4,229.3 L87.1,231.1 L87.8,233.2 L88.7,242.6 L89.5,251.8 L90.5,255.3 L90.5,255.3 L107.8,255.3" fill="none" stroke="#8a8a8a" stroke-width="1.25" stroke-linejoin="round"/>
<path d="M42.4,255.3 L52.1,255.3 L52.1,255.3 L54.1,251.3 L56.8,243.9 L59.5,233.1 L61.5,223 L63.6,212.9 L65.6,206.2 L67.6,202.1 L69.3,197.4 L70.7,200.8 L72.3,204.1 L74.3,208.9 L76.3,214.2 L78.4,219 L80.4,222.3 L82.4,224.3 L84.4,226.4 L86.4,227.7 L87.4,231.7 L88.5,242.5 L89.5,251.9 L90.5,255.3 L90.5,255.3 L107.8,255.3" fill="none" stroke="#000" stroke-width="1.25" stroke-dasharray="3,2" stroke-linejoin="round"/>
<path d="M42.4,255.3 L52.1,255.3 L52.1,255.3 L52.8,255.1 L53.5,255 L54.1,254.8 L54.8,254.6 L55.5,254.1 L56.2,253.7 L56.8,253.3 L57.5,252.6 L58.2,252.2 L58.8,252.2 L59.5,251.5 L60.2,250.5 L60.9,250 L61.5,249.4 L62.2,248.9 L62.9,248.5 L63.6,247.9 L64.2,247 L64.9,246.1 L65.6,245.2 L66.2,244.1 L66.9,243 L67.6,241.6 L68.3,240.5 L68.9,239.1 L69.6,239.6 L70.3,240 L71,238.5 L71.6,237.3 L72.3,238.6 L73,240.4 L73.7,241.7 L74.3,242.7 L75,241.9 L75.7,241.2 L76.3,240.7 L77,239.3 L77.7,238.2 L78.4,237.4 L79,235.2 L79.7,233.5 L80.4,231.7 L81.1,227.1 L81.7,222.2 L82.8,212.7 L83.8,204.7 L84.7,201.7 L85.8,202.1 L86.6,208.7 L87.4,223.9 L88.2,235.6 L89.1,247.8 L90.1,254.6 L91.2,255.3 L91.2,255.3 L107.8,255.3" fill="none" stroke="#000" stroke-width="1.35" stroke-linejoin="round"/>
</g>
<rect x="42.4" y="189.9" width="65.4" height="65.4" fill="none" stroke="#a2a2a2" stroke-width="1"/>
<line x1="46.0" y1="256.9" x2="59.0" y2="256.9" stroke="#8a8a8a" stroke-width="1" stroke-dasharray="1.6,0.7"/>
<line x1="59.0" y1="256.9" x2="100.0" y2="256.9" stroke="#c4c4c4" stroke-width="0.9" stroke-dasharray="1.2,1.3"/>
<g>
<path d="M116.2,255.3 L127.5,255.3 L127.5,255.3 L128.1,254.8 L128.8,254.3 L129.5,253.7 L130.2,253.4 L130.8,252.3 L131.5,251.1 L132.2,250.5 L132.8,249 L133.5,247.3 L134.2,245.9 L134.9,243.8 L135.5,242.8 L136.2,239.6 L136.9,237 L137.6,234.5 L138.2,230.9 L138.9,228 L139.6,225.3 L140.2,222 L140.9,218.7 L141.6,215.5 L142.3,212.4 L142.9,208.6 L143.6,205.4 L144.3,202.4 L145,199.9 L145.6,198.3 L146.3,196.4 L147,194.3 L147.7,195.5 L148.3,196.8 L149.3,201.9 L150.1,208.8 L151,218.5 L151.7,223.4 L152.4,229 L153,233.4 L153.7,238.8 L154.4,240.6 L155.1,242.8 L155.7,245.3 L156.4,247.2 L157.1,248.7 L157.8,250.8 L158.4,251.7 L159.1,252.8 L159.8,253.9 L160.4,254.3 L161.1,254.6 L161.8,255 L162.5,255.3 L162.5,255.3 L181.6,255.3" fill="none" stroke="#8a8a8a" stroke-width="1.25" stroke-linejoin="round"/>
<path d="M116.2,255.3 L128.8,255.3 L128.8,255.3 L131.5,253.3 L134.2,248.6 L136.9,242.5 L138.9,235.8 L140.9,227.7 L142.5,219.6 L143.9,211.6 L145.2,204.8 L146.6,198.8 L147.7,195.4 L148.7,199.4 L149.7,207.5 L151,215.6 L152.4,222.3 L153.7,230.4 L155.1,237.1 L156.4,241.8 L158.4,246.6 L160.4,249.9 L161.8,252.6 L163.1,255.3 L163.1,255.3 L181.6,255.3" fill="none" stroke="#000" stroke-width="1.25" stroke-dasharray="3,2" stroke-linejoin="round"/>
<path d="M116.2,255.3 L131.5,255.3 L131.5,255.3 L132.2,255.2 L132.8,255.2 L133.5,255.1 L134.2,255 L134.9,255 L135.5,254.9 L136.2,254.7 L136.9,254.5 L137.6,254.3 L138.2,254.1 L138.9,254 L139.6,253.4 L140.2,252.9 L140.9,252.5 L141.6,251.8 L142.3,250.5 L142.9,249.2 L143.6,248.2 L144.4,244.9 L145.2,242.6 L145.9,238.7 L146.6,234.2 L147.2,229.8 L147.9,225 L148.8,220.4 L149.7,215.6 L150.3,212.7 L151,210 L151.7,207.5 L152.4,204.5 L153,201.7 L154.1,199.2 L155.1,203.6 L155.7,208.1 L156.4,212.9 L157.1,217.2 L157.8,221.2 L158.4,224.8 L159.1,229.3 L159.8,233.7 L160.4,238.2 L161.4,246.8 L162.2,252 L163.1,254.6 L163.8,255 L164.5,255.3 L164.5,255.3 L181.6,255.3" fill="none" stroke="#000" stroke-width="1.35" stroke-linejoin="round"/>
</g>
<rect x="116.2" y="189.9" width="65.4" height="65.4" fill="none" stroke="#a2a2a2" stroke-width="1"/>
<line x1="120.0" y1="256.9" x2="133.0" y2="256.9" stroke="#8a8a8a" stroke-width="1" stroke-dasharray="1.6,0.7"/>
<line x1="133.0" y1="256.9" x2="174.0" y2="256.9" stroke="#c4c4c4" stroke-width="0.9" stroke-dasharray="1.2,1.3"/>
<g>
<path d="M189.9,255.3 L204.2,255.3 L204.2,255.3 L204.8,255.1 L205.5,254.9 L206.2,254.6 L206.8,254.4 L207.5,254.2 L208.2,253.8 L208.9,253.2 L209.5,252.5 L210.2,251.1 L210.9,250.5 L211.6,248.7 L212.2,247.1 L212.9,245.5 L213.6,242.5 L214.2,240 L214.9,237.5 L215.7,233.4 L216.5,228.7 L217.2,224.4 L217.9,219.6 L218.6,215.8 L219.2,211.9 L220.3,203.1 L221.4,198.1 L222.3,197.4 L223.3,200.6 L224.3,205.8 L225,210.8 L225.7,215.5 L226.4,220.4 L227,224.9 L227.7,229.7 L228.4,234.4 L229.1,238.2 L229.7,242.3 L230.4,245.1 L231.1,247.1 L231.8,249 L232.4,250.8 L233.1,252.1 L233.8,253.4 L234.4,253.8 L235.1,254.2 L235.8,254.8 L236.5,255.3 L236.5,255.3 L255.3,255.3" fill="none" stroke="#8a8a8a" stroke-width="1.25" stroke-linejoin="round"/>
<path d="M189.9,255.3 L205.5,255.3 L205.5,255.3 L208.9,253.3 L211.6,249.2 L213.6,242.5 L215.6,234.4 L216.9,226.4 L218.3,218.3 L219.6,210.2 L220.7,204.8 L221.7,198.8 L222.7,200.8 L223.7,204.8 L224.6,210.2 L225.7,218.3 L227,227.7 L228.4,235.8 L229.7,242.5 L231.8,248.6 L233.8,252.6 L235.8,255.3 L235.8,255.3 L255.3,255.3" fill="none" stroke="#000" stroke-width="1.25" stroke-dasharray="3,2" stroke-linejoin="round"/>
<path d="M189.9,255.3 L201.5,255.3 L201.5,255.3 L202.1,255.2 L202.8,255.1 L203.5,255 L204.2,254.9 L204.8,254.7 L205.5,254.6 L206.2,254.4 L206.8,254.1 L207.5,253.7 L208.2,253.7 L208.9,253.3 L209.5,252.6 L210.2,251.7 L210.9,251 L211.6,249.8 L212.2,248.3 L212.9,246.8 L213.6,245.6 L214.2,243.9 L214.9,241.1 L215.6,238.6 L216.3,235.8 L217.1,231.1 L217.9,226.3 L218.8,221.7 L219.6,216.8 L220.3,213.7 L221,210.4 L221.7,207.9 L222.3,206.2 L223.3,203.5 L224.3,201.9 L225.4,204.8 L226.4,208.7 L227,210.8 L227.7,213 L228.4,214 L229.1,215.5 L229.7,217.5 L230.4,219.8 L231.1,221.8 L231.8,223.8 L232.4,226.4 L233.1,229.2 L233.8,232.9 L234.4,236.9 L235.1,240.7 L235.8,243.9 L236.5,246.5 L237.1,249.3 L237.8,251.3 L238.5,253.2 L239.2,254.3 L239.8,255.3 L239.8,255.3 L255.3,255.3" fill="none" stroke="#000" stroke-width="1.35" stroke-linejoin="round"/>
</g>
<rect x="189.9" y="189.9" width="65.4" height="65.4" fill="none" stroke="#a2a2a2" stroke-width="1"/>
<line x1="194.0" y1="256.9" x2="207.0" y2="256.9" stroke="#8a8a8a" stroke-width="1" stroke-dasharray="1.6,0.7"/>
<line x1="207.0" y1="256.9" x2="248.0" y2="256.9" stroke="#c4c4c4" stroke-width="0.9" stroke-dasharray="1.2,1.3"/>
<g>
<path d="M263.8,255.3 L272.8,255.3 L272.8,255.3 L273.4,255.1 L274.1,255 L274.8,254.8 L275.5,254.7 L276.1,253.7 L276.8,252.8 L277.5,252.1 L278.2,249.8 L278.8,247.6 L279.5,245.1 L280.2,241.7 L280.8,237.7 L281.5,234.3 L282.2,230.8 L282.9,227.1 L283.5,223.8 L284.3,219.3 L285.2,213.9 L285.8,210 L286.5,205.9 L287.6,200.7 L288.7,197.1 L289.6,197.4 L290.3,199.7 L290.9,201.4 L291.6,203.1 L292.3,205.2 L293,208.2 L293.6,211.3 L294.3,215.1 L295,218.3 L295.9,222.6 L296.7,226 L297.5,229.7 L298.3,233.2 L299.2,235.8 L300,238.4 L300.8,239.4 L301.7,240.4 L302.4,240.8 L303.1,240.5 L303.7,240.4 L304.4,240.8 L305.1,240.2 L305.8,240.7 L306.4,240.1 L307.1,239.9 L307.8,239.8 L308.4,240.6 L309.1,241.7 L309.8,243.5 L310.5,245.4 L311.1,247.3 L311.8,249.4 L312.5,250.7 L313.2,252.7 L313.8,254.1 L314.5,255.3 L314.5,255.3 L329.2,255.3" fill="none" stroke="#8a8a8a" stroke-width="1.25" stroke-linejoin="round"/>
<path d="M263.8,255.3 L274.1,255.3 L274.1,255.3 L276.8,254 L278.8,249.2 L280.8,239.8 L282.9,229.1 L284.2,219.6 L286,210.2 L287.3,204.8 L288.7,200.8 L290.3,203.5 L292.3,207.5 L294,214.2 L295.7,221 L297.3,227.7 L299,234.4 L300.8,239.1 L302.4,240.9 L305.1,240.9 L307.5,240.1 L309.1,242.5 L310.5,245.9 L312.1,249.9 L313.4,253.3 L315.2,255.3 L315.2,255.3 L329.2,255.3" fill="none" stroke="#000" stroke-width="1.25" stroke-dasharray="3,2" stroke-linejoin="round"/>
<path d="M263.8,255.3 L272.8,255.3 L272.8,255.3 L273.4,255.2 L274.1,255 L274.8,254.9 L275.5,254.8 L276.1,254.7 L276.8,254.2 L277.5,253.7 L278.2,253.5 L278.8,252.9 L279.5,252.5 L280.2,252 L280.8,251.1 L281.5,250.9 L282.2,249.7 L282.9,248.5 L283.5,246.9 L284.2,245.1 L284.9,242.8 L285.6,240.8 L286.2,238.5 L287,235.1 L287.8,231.5 L288.9,225.3 L290,220.7 L290.9,222.1 L291.9,221.5 L292.6,222.8 L293.2,223.8 L294.1,224.9 L295,226.6 L295.9,228.1 L296.7,229.9 L297.4,229.6 L298.1,228.9 L298.9,226.9 L299.7,225.3 L300.5,223.2 L301.3,220.8 L302.2,218 L303.1,215.8 L303.9,212.6 L304.8,210.3 L305.6,207.3 L306.4,204.9 L307.1,202 L307.8,199.2 L308.4,201.3 L309.1,203.5 L309.8,207.1 L310.5,210.3 L311.1,213.8 L311.8,216.8 L312.5,220.8 L313.2,224.9 L313.8,229.7 L314.5,234.5 L315.2,238.7 L315.8,242.8 L316.5,245.3 L317.2,247.6 L317.9,249.3 L318.5,250.8 L319.2,252.5 L319.9,253.5 L320.6,254.2 L321.2,254.9 L321.9,255 L322.6,255.1 L323.2,255.2 L323.9,255.3 L323.9,255.3 L329.2,255.3" fill="none" stroke="#000" stroke-width="1.35" stroke-linejoin="round"/>
</g>
<rect x="263.8" y="189.9" width="65.4" height="65.4" fill="none" stroke="#a2a2a2" stroke-width="1"/>
<line x1="268.0" y1="256.9" x2="281.0" y2="256.9" stroke="#8a8a8a" stroke-width="1" stroke-dasharray="1.6,0.7"/>
<line x1="281.0" y1="256.9" x2="322.0" y2="256.9" stroke="#c4c4c4" stroke-width="0.9" stroke-dasharray="1.2,1.3"/>
<g>
<path d="M42.4,328.9 L53.5,328.9 L53.5,328.9 L54.1,328.8 L54.8,328.7 L55.5,328.6 L56.2,328.5 L56.8,328.3 L57.5,328.2 L58.2,327.7 L58.8,327.3 L59.5,327 L60.2,326.3 L60.9,325.8 L61.5,325.4 L62.2,324.4 L62.9,323.2 L63.6,322.7 L64.2,321.7 L64.9,320.3 L65.6,318.9 L66.2,317.2 L66.9,316.3 L67.7,312.3 L68.5,308.1 L69.4,303.7 L70.3,300.2 L71,297.2 L71.6,294.3 L72.3,291.8 L73,289.2 L73.7,286.8 L74.3,284 L75.2,280 L76.1,275.5 L77,272.5 L78,277.2 L79,274.6 L80.1,279.5 L80.9,281 L81.7,282.4 L82.5,283.2 L83.3,283.9 L84.2,284.8 L85.1,286.4 L85.8,287.9 L86.4,289.3 L87.4,297.3 L88.2,308.4 L89.1,319.1 L90.1,325.4 L91.2,328.9 L91.2,328.9 L107.8,328.9" fill="none" stroke="#8a8a8a" stroke-width="1.25" stroke-linejoin="round"/>
<path d="M42.4,328.9 L56.2,328.9 L56.2,328.9 L60.2,328 L63.6,326.2 L66.2,323.5 L68.9,320.1 L71.6,316.1 L73.7,312.1 L75.7,308.7 L77.7,305.3 L79.3,301.3 L80.7,296.6 L82,290.5 L83.3,282.5 L84.7,275.7 L85.8,272.4 L86.8,274.4 L87.8,283.8 L88.7,297.3 L89.5,312.1 L90.5,324.2 L91.8,328.9 L91.8,328.9 L107.8,328.9" fill="none" stroke="#000" stroke-width="1.25" stroke-dasharray="3,2" stroke-linejoin="round"/>
<path d="M42.4,328.9 L53.5,328.9 L53.5,328.9 L54.1,328.8 L54.8,328.7 L55.5,328.6 L56.2,328.6 L56.8,328.5 L57.5,328.4 L58.2,328.3 L58.8,328.3 L59.5,328.1 L60.2,328.1 L60.9,327.9 L61.5,328 L62.2,327.9 L62.9,327.7 L63.6,327.7 L64.2,327.5 L64.9,327.5 L65.6,327.2 L66.2,327 L66.9,327 L67.6,326.8 L68.3,326.8 L68.9,326.2 L69.6,326 L70.3,325.8 L71,325.7 L71.6,325.3 L72.3,325.3 L73,325 L73.7,324.7 L74.3,324.1 L75,323.5 L75.7,322.4 L76.3,321.6 L77,320.2 L77.7,318.6 L78.4,317.7 L79,314.1 L79.7,310.4 L80.4,305.7 L81.1,301.4 L81.7,296.5 L82.4,291.6 L83.1,287 L83.8,282.5 L84.4,278.6 L85.1,274.4 L86,271.2 L87.1,274.2 L88.2,284.9 L89.1,300.1 L90.1,314.9 L91.2,325.6 L91.8,327.2 L92.5,328.9 L92.5,328.9 L107.8,328.9" fill="none" stroke="#000" stroke-width="1.35" stroke-linejoin="round"/>
</g>
<rect x="42.4" y="263.8" width="65.4" height="65.1" fill="none" stroke="#a2a2a2" stroke-width="1"/>
<line x1="46.0" y1="330.5" x2="59.0" y2="330.5" stroke="#8a8a8a" stroke-width="1" stroke-dasharray="1.6,0.7"/>
<line x1="59.0" y1="330.5" x2="100.0" y2="330.5" stroke="#c4c4c4" stroke-width="0.9" stroke-dasharray="1.2,1.3"/>
<g>
<path d="M116.2,328.9 L127.5,328.9 L127.5,328.9 L128.1,328.7 L128.8,328.5 L129.5,328.2 L130.2,327.9 L130.8,327.8 L131.5,327.6 L132.2,327.1 L132.8,326.3 L133.5,326.1 L134.2,325.3 L134.9,324.9 L135.5,323.4 L136.2,322.3 L136.9,321.4 L137.6,320.3 L138.2,317.6 L138.9,315.3 L139.6,313.5 L140.2,310 L140.9,306.4 L141.6,303.4 L142.3,300.1 L142.9,296.3 L143.6,292.9 L144.3,290 L145,286.7 L145.6,283.7 L146.3,281 L147,278.8 L147.7,277.1 L148.5,275.2 L149.3,273.8 L149.9,271.9 L150.6,270 L151.7,275.8 L152.8,282.3 L153.7,289.4 L154.7,295.7 L155.7,302.8 L156.4,307 L157.1,310.9 L157.8,313.9 L158.4,317.3 L159.1,320.4 L159.8,323 L160.4,324.7 L161.1,326.3 L161.8,327 L162.5,327.5 L163.1,328.3 L163.8,328.5 L164.5,328.7 L165.2,328.9 L165.2,328.9 L181.6,328.9" fill="none" stroke="#8a8a8a" stroke-width="1.25" stroke-linejoin="round"/>
<path d="M116.2,328.9 L130.2,328.9 L130.2,328.9 L134.2,328.2 L137.6,326.2 L139.6,322.8 L141.6,317.5 L143.3,310.7 L145,304 L146.3,297.3 L147.7,289.2 L148.7,281.1 L149.7,275.7 L150.6,273 L151.7,277.1 L152.8,282.5 L153.7,289.2 L155.1,297.3 L156.4,305.3 L157.8,313.4 L159.1,318.8 L160.4,323.5 L161.8,326.6 L163.8,328.9 L163.8,328.9 L181.6,328.9" fill="none" stroke="#000" stroke-width="1.25" stroke-dasharray="3,2" stroke-linejoin="round"/>
<path d="M116.2,328.9 L127.5,328.9 L127.5,328.9 L128.1,328.8 L128.8,328.8 L129.5,328.7 L130.2,328.7 L130.8,328.6 L131.5,328.6 L132.2,328.5 L132.8,328.5 L133.5,328.4 L134.2,328.3 L134.9,328.3 L135.5,328.1 L136.2,328.1 L136.9,327.9 L137.6,327.8 L138.2,327.4 L138.9,327.1 L139.6,326.9 L140.2,326.7 L140.9,326.1 L141.6,325.4 L142.3,325.1 L142.9,324.4 L143.6,323 L144.3,321.7 L145,320.1 L145.6,319 L146.3,316.9 L147,315.5 L147.7,313.9 L148.5,311.6 L149.3,309.4 L149.9,307.1 L150.6,305.5 L151.3,305.4 L152,306.2 L152.6,303.2 L153.3,300.6 L154,297.1 L154.7,293.4 L155.3,289.2 L156,285.2 L157.1,277.3 L158.2,271.5 L159.1,270.3 L159.8,276 L160.4,280.9 L161.4,292 L162.2,302.5 L163.1,313.1 L164.1,321.4 L165.2,326.9 L165.8,327.5 L166.5,328.2 L167.2,328.9 L167.2,328.9 L181.6,328.9" fill="none" stroke="#000" stroke-width="1.35" stroke-linejoin="round"/>
</g>
<rect x="116.2" y="263.8" width="65.4" height="65.1" fill="none" stroke="#a2a2a2" stroke-width="1"/>
<line x1="120.0" y1="330.5" x2="133.0" y2="330.5" stroke="#8a8a8a" stroke-width="1" stroke-dasharray="1.6,0.7"/>
<line x1="133.0" y1="330.5" x2="174.0" y2="330.5" stroke="#c4c4c4" stroke-width="0.9" stroke-dasharray="1.2,1.3"/>
<g>
<path d="M189.9,328.9 L200.1,328.9 L200.1,328.9 L200.8,328.6 L201.5,328.3 L202.1,327.9 L202.8,327.6 L203.5,327.1 L204.2,326.7 L204.8,326.2 L205.5,325.1 L206.2,324.8 L206.8,323.7 L207.5,323.1 L208.2,321.4 L208.9,319.9 L209.5,318.7 L210.2,317.6 L210.9,315.5 L211.6,313 L212.2,310.5 L213,306.9 L213.8,302.4 L214.7,298.6 L215.6,294.6 L216.3,290.7 L216.9,286.5 L217.6,282.6 L218.3,278.2 L219.2,273 L220.3,271.4 L221.4,274.7 L222.1,275.9 L222.7,277 L223.7,282.5 L224.6,289 L225.7,297 L226.4,301.7 L227,306.4 L227.7,311.3 L228.4,315.8 L229.1,319.3 L229.7,322.7 L230.4,324 L231.1,325.1 L231.8,326 L232.4,326.6 L233.1,327.3 L233.8,327.9 L234.4,328.1 L235.1,328.4 L235.8,328.7 L236.5,328.9 L236.5,328.9 L255.3,328.9" fill="none" stroke="#8a8a8a" stroke-width="1.25" stroke-linejoin="round"/>
<path d="M189.9,328.9 L202.8,328.9 L202.8,328.9 L206.8,328 L210.2,325.5 L212.9,321.5 L214.9,314.8 L216.9,306.7 L218.7,297.3 L220.3,286.5 L221.7,278.4 L222.7,273 L223.7,274.4 L224.6,279.8 L225.7,286.5 L227,294.6 L228.4,302.6 L230,310.7 L231.8,317.5 L233.5,322.8 L235.1,326.6 L237.1,328.9 L237.1,328.9 L255.3,328.9" fill="none" stroke="#000" stroke-width="1.25" stroke-dasharray="3,2" stroke-linejoin="round"/>
<path d="M189.9,328.9 L201.5,328.9 L201.5,328.9 L202.1,328.8 L202.8,328.8 L203.5,328.7 L204.2,328.6 L204.8,328.6 L205.5,328.5 L206.2,328.3 L206.8,328.2 L207.5,328 L208.2,327.9 L208.9,327.6 L209.5,327.6 L210.2,327 L210.9,326.5 L211.6,325.9 L212.2,325.5 L212.9,324.3 L213.6,322.9 L214.2,321.4 L214.9,319.5 L215.6,317.8 L216.3,316.1 L216.9,313.3 L217.6,310.6 L218.3,308.2 L219,304.7 L219.6,300.8 L220.3,297.2 L221.1,292.7 L221.9,287.9 L222.6,285.3 L223.3,282.7 L223.9,280.2 L224.6,278.4 L225.3,277.7 L226,276.2 L227,276.9 L227.7,278.4 L228.4,280 L229.2,279.6 L230,279.4 L230.7,281.4 L231.3,283.6 L232,287.6 L232.7,291.9 L233.4,296.4 L234,301.2 L234.7,305.8 L235.4,310.7 L236.1,314.5 L236.7,318.9 L237.4,321.8 L238.1,324.7 L239,326.7 L239.8,328.2 L240.5,328.5 L241.2,328.7 L241.8,328.9 L241.8,328.9 L255.3,328.9" fill="none" stroke="#000" stroke-width="1.35" stroke-linejoin="round"/>
</g>
<rect x="189.9" y="263.8" width="65.4" height="65.1" fill="none" stroke="#a2a2a2" stroke-width="1"/>
<line x1="194.0" y1="330.5" x2="207.0" y2="330.5" stroke="#8a8a8a" stroke-width="1" stroke-dasharray="1.6,0.7"/>
<line x1="207.0" y1="330.5" x2="248.0" y2="330.5" stroke="#c4c4c4" stroke-width="0.9" stroke-dasharray="1.2,1.3"/>
<g>
<path d="M263.8,328.9 L270.1,328.9 L270.1,328.9 L270.8,328.1 L271.4,327.2 L272.1,326.2 L272.8,325.5 L273.4,323.9 L274.1,321.9 L274.8,320.6 L275.5,318.8 L276.1,316.9 L276.8,314.6 L277.5,312.7 L278.2,310.6 L278.8,309 L279.5,306.4 L280.2,304.8 L280.8,302.7 L281.5,299.9 L282.2,297.4 L282.9,294.8 L283.5,289.7 L284.2,285.4 L284.9,280.3 L285.6,275.5 L286.5,271.6 L287.6,274.6 L288.2,277.3 L288.9,280 L289.6,278.3 L290.3,276.8 L291.3,274.8 L292.3,279.4 L293,282.9 L293.6,286.5 L294.3,289.3 L295,292.2 L295.7,295 L296.3,298.9 L297,301.9 L297.7,305.4 L298.3,306.9 L299,308 L299.7,307.3 L300.4,306.4 L301,304.2 L301.7,301.3 L302.4,297.7 L303.1,294.5 L303.7,290.8 L304.4,286.2 L305.1,283.3 L305.8,280 L306.4,277.6 L307.1,275.6 L308,278.7 L309.1,285.5 L310.2,296.2 L311.1,307.9 L312.1,318.9 L313.2,325.8 L313.8,327.2 L314.5,328.9 L314.5,328.9 L329.2,328.9" fill="none" stroke="#8a8a8a" stroke-width="1.25" stroke-linejoin="round"/>
<path d="M263.8,328.9 L272.8,328.9 L272.8,328.9 L275.5,327.6 L278.2,324.2 L280.8,320.1 L283.5,314.8 L286.2,309.4 L288.2,307.4 L290.3,306.7 L292.3,308 L294.3,310.1 L296.3,311.4 L298.3,309.4 L300,305.3 L301.3,298.6 L302.7,290.5 L304,283.8 L305.3,278.4 L307.1,274.4 L308.4,277.1 L309.4,285.1 L310.5,297.3 L311.5,309.4 L312.6,320.1 L313.8,326.9 L315.2,328.9 L315.2,328.9 L329.2,328.9" fill="none" stroke="#000" stroke-width="1.25" stroke-dasharray="3,2" stroke-linejoin="round"/>
<path d="M263.8,328.9 L272.8,328.9 L272.8,328.9 L273.4,328.8 L274.1,328.8 L274.8,328.7 L275.5,328.6 L276.1,328.6 L276.8,328.5 L277.5,328.4 L278.2,328.3 L278.8,328.2 L279.5,328.2 L280.2,328.1 L280.8,328 L281.5,327.7 L282.2,327.5 L282.9,327.4 L283.5,327.1 L284.2,326.9 L284.9,326.7 L285.6,326.3 L286.2,326.1 L286.9,325.7 L287.6,325.5 L288.2,325.2 L288.9,324.8 L289.6,325 L290.3,324.5 L290.9,323.9 L291.6,324.3 L292.3,324.6 L293,324.8 L293.6,324.9 L294.3,324.2 L295,323.5 L295.7,322.6 L296.3,321.8 L297,320.8 L297.7,320.4 L298.3,319.1 L299,317.6 L299.7,316.1 L300.4,314.1 L301,312 L301.7,308.7 L302.4,305.5 L303.1,301.4 L303.7,297.5 L304.4,293.2 L305.1,288.9 L305.8,285.9 L306.4,282.5 L307.1,279.8 L307.8,277.8 L308.4,276.8 L309.1,276.5 L309.8,277.6 L310.5,278.4 L311.5,283.7 L312.5,291.7 L313.2,297 L313.8,302.5 L314.5,307.4 L315.2,311.8 L315.8,316 L316.5,320 L317.2,323 L317.9,326.1 L318.5,327.4 L319.2,328.5 L319.9,328.6 L320.6,328.8 L321.2,328.9 L321.2,328.9 L329.2,328.9" fill="none" stroke="#000" stroke-width="1.35" stroke-linejoin="round"/>
</g>
<rect x="263.8" y="263.8" width="65.4" height="65.1" fill="none" stroke="#a2a2a2" stroke-width="1"/>
<line x1="268.0" y1="330.5" x2="281.0" y2="330.5" stroke="#8a8a8a" stroke-width="1" stroke-dasharray="1.6,0.7"/>
<line x1="281.0" y1="330.5" x2="322.0" y2="330.5" stroke="#c4c4c4" stroke-width="0.9" stroke-dasharray="1.2,1.3"/>
<g>
<path d="M42.4,433.5 L46.7,433.5 L46.7,433.5 L47.4,432.9 L48.1,432.3 L48.8,431.6 L49.4,431.1 L50.1,430 L50.8,428.8 L51.4,427.2 L52.1,425.3 L52.8,423 L53.5,420.4 L54.1,417.5 L54.8,415.3 L55.5,412.3 L56.2,409.8 L56.8,406.7 L57.5,404.5 L58.2,400.9 L58.8,398.3 L59.5,394.6 L60.4,390.9 L61.3,386.6 L61.9,383.8 L62.6,381.5 L63.3,379.6 L64,377.1 L64.6,376.4 L65.3,375.6 L66.2,374.3 L66.9,375.9 L67.6,377.7 L68.3,378.5 L68.9,379.4 L69.6,380.9 L70.3,382.6 L71,385.1 L71.6,388 L72.3,392.4 L73,396.1 L73.7,399.3 L74.3,402.6 L75,406.5 L75.7,409.3 L76.3,411.8 L77,413.5 L77.7,414.8 L78.4,415.6 L79,416.5 L79.7,417.1 L80.4,418.1 L81.1,419.3 L81.9,420.9 L82.8,423.2 L83.5,425.6 L84.2,428.4 L84.8,430.7 L85.5,432.6 L86.4,433.5 L86.4,433.5 L107.8,433.5" fill="none" stroke="#8a8a8a" stroke-width="1.25" stroke-linejoin="round"/>
<path d="M42.4,433.5 L52.1,433.5 L52.1,433.5 L56.2,432.6 L60.2,431.2 L64.2,429.9 L67.6,428.5 L69.6,426.5 L71.6,421.8 L73.4,415.1 L74.7,405.6 L76.1,396.2 L77.4,386.8 L78.4,380.1 L79.3,375.3 L80.1,374 L81.1,378.7 L82,388.1 L83.1,400.2 L84.2,413.7 L85.2,425.8 L86,432.6 L87.1,433.5 L87.1,433.5 L107.8,433.5" fill="none" stroke="#000" stroke-width="1.25" stroke-dasharray="3,2" stroke-linejoin="round"/>
<path d="M42.4,433.5 L50.8,433.5 L50.8,433.5 L51.4,433.4 L52.1,433.3 L52.8,433.2 L53.5,433.1 L54.1,432.9 L54.8,432.8 L55.5,432.7 L56.2,432.5 L56.8,432.3 L57.5,432.2 L58.2,431.9 L58.8,432 L59.5,431.7 L60.2,431.3 L60.9,431.1 L61.5,431 L62.2,430.9 L62.9,430.5 L63.6,430.3 L64.2,430 L64.9,429.8 L65.6,429.7 L66.2,429.5 L66.9,429.5 L67.6,428.9 L68.3,428.3 L68.9,427.8 L69.6,426.4 L70.3,424.6 L71,423.4 L71.8,419.6 L72.6,416.5 L73.2,411.6 L73.9,406.8 L74.6,402.2 L75.3,397.8 L75.9,392.9 L76.6,388.1 L77.7,381.7 L78.8,376.9 L79.8,373.8 L80.8,377.5 L81.7,386.7 L82.8,398.7 L83.9,412.1 L85,424.4 L85.8,431.2 L86.8,433.5 L86.8,433.5 L107.8,433.5" fill="none" stroke="#000" stroke-width="1.35" stroke-linejoin="round"/>
</g>
<rect x="42.4" y="368.3" width="65.4" height="65.2" fill="none" stroke="#a2a2a2" stroke-width="1"/>
<line x1="46.0" y1="435.1" x2="59.0" y2="435.1" stroke="#8a8a8a" stroke-width="1" stroke-dasharray="1.6,0.7"/>
<line x1="59.0" y1="435.1" x2="100.0" y2="435.1" stroke="#c4c4c4" stroke-width="0.9" stroke-dasharray="1.2,1.3"/>
<g>
<path d="M116.2,433.5 L122.1,433.5 L122.1,433.5 L122.8,433.3 L123.4,433.2 L124.1,433 L124.8,432.8 L125.4,432.7 L126.1,432.5 L126.8,432 L127.5,431.1 L128.1,430.6 L128.8,430.1 L129.5,429.1 L130.2,428.1 L130.8,426.7 L131.5,425.7 L132.2,424.3 L132.8,422.3 L133.5,420.7 L134.2,417.5 L134.9,415.3 L135.5,412.6 L136.3,408.8 L137.2,405.8 L137.8,403.2 L138.5,400.3 L139.2,395.3 L139.8,390.8 L140.9,384 L142,378.2 L142.7,376.2 L143.6,378.9 L144.7,383.1 L145.6,388 L146.6,394.9 L147.7,401.4 L148.7,409.4 L149.8,416.5 L150.4,418.8 L151,421.8 L151.7,423.9 L152.4,426.3 L153.2,428.5 L154.1,429.8 L154.9,430.7 L155.6,431 L156.4,432 L157.1,432.2 L157.8,432.6 L158.4,432.9 L159.1,433.2 L159.8,433.3 L160.4,433.4 L161.1,433.5 L161.1,433.5 L181.6,433.5" fill="none" stroke="#8a8a8a" stroke-width="1.25" stroke-linejoin="round"/>
<path d="M116.2,433.5 L127.5,433.5 L127.5,433.5 L131.5,433.1 L135.5,432.3 L138.9,431.5 L141.6,430.5 L143.9,428.5 L145.6,424.5 L147,417.8 L148.3,407 L149.7,396.2 L151,386.8 L152,380.1 L152.8,376 L153.6,378 L154.7,385.4 L156,393.5 L157.1,402.9 L158.2,415.1 L159.2,424.5 L160.4,431.2 L161.8,433.5 L161.8,433.5 L181.6,433.5" fill="none" stroke="#000" stroke-width="1.25" stroke-dasharray="3,2" stroke-linejoin="round"/>
<path d="M116.2,433.5 L127.5,433.5 L127.5,433.5 L128.1,433.4 L128.8,433.4 L129.5,433.3 L130.2,433.3 L130.8,433.2 L131.5,433.2 L132.2,433.1 L132.8,433 L133.5,432.8 L134.2,432.7 L134.9,432.5 L135.5,432.4 L136.2,432.3 L136.9,432.2 L137.6,431.8 L138.2,431.5 L138.9,431.6 L139.6,431.2 L140.2,430.7 L140.9,430.5 L141.6,430.1 L142.3,430 L142.9,428.8 L143.6,428 L144.3,427 L145.2,424.6 L146,421.5 L146.7,417.5 L147.4,413.9 L148.1,408.3 L148.7,402.7 L149.4,397.8 L150.1,392.3 L150.8,387.3 L151.4,382.9 L152.5,377.5 L153.3,379.1 L154.1,382.7 L155.2,389.7 L155.8,394 L156.4,399.1 L157,405.2 L157.6,410.8 L158.7,421.7 L159.8,428.6 L160.4,430.7 L161.1,432.6 L161.8,433 L162.5,433.5 L162.5,433.5 L181.6,433.5" fill="none" stroke="#000" stroke-width="1.35" stroke-linejoin="round"/>
</g>
<rect x="116.2" y="368.3" width="65.4" height="65.2" fill="none" stroke="#a2a2a2" stroke-width="1"/>
<line x1="120.0" y1="435.1" x2="133.0" y2="435.1" stroke="#8a8a8a" stroke-width="1" stroke-dasharray="1.6,0.7"/>
<line x1="133.0" y1="435.1" x2="174.0" y2="435.1" stroke="#c4c4c4" stroke-width="0.9" stroke-dasharray="1.2,1.3"/>
<g>
<path d="M189.9,433.5 L201.5,433.5 L201.5,433.5 L202.1,433.3 L202.8,433.2 L203.5,433 L204.2,432.9 L204.8,432.7 L205.5,432.6 L206.2,432.1 L206.8,431.6 L207.5,430.9 L208.2,430.3 L208.9,429.9 L209.5,429 L210.2,428.2 L210.9,426.9 L211.6,425.9 L212.2,424.7 L212.9,423.1 L213.6,421.8 L214.2,420.2 L214.9,418.5 L215.6,417 L216.3,414.7 L217.1,412.7 L217.9,409.8 L218.6,406.1 L219.2,402.8 L220.3,393.7 L221.4,385.6 L222.3,379.8 L223.3,374.7 L224.1,380.2 L225,386.7 L226,396.3 L227,406.8 L228.1,416.2 L228.8,420 L229.5,423.4 L230.3,425.3 L231.1,427.6 L231.8,428.8 L232.4,429.6 L233.1,431.1 L233.8,431.5 L234.4,432 L235.1,432.5 L235.8,432.8 L236.5,433 L237.1,433.3 L237.8,433.5 L237.8,433.5 L255.3,433.5" fill="none" stroke="#8a8a8a" stroke-width="1.25" stroke-linejoin="round"/>
<path d="M189.9,433.5 L202.8,433.5 L202.8,433.5 L206.2,432.6 L209.5,429.2 L212.2,424.5 L214.9,419.1 L217.6,413.7 L220.3,407 L222.7,400.2 L224.6,394.9 L226.4,388.1 L227.7,381.4 L229.1,378 L230.4,376.7 L231.3,377.4 L232.4,380.1 L233.8,385.4 L235.1,392.2 L236.5,400.2 L237.8,409.7 L239.2,417.8 L240.5,424.5 L241.8,429.9 L243.2,432.8 L244.5,433.5 L244.5,433.5 L255.3,433.5" fill="none" stroke="#000" stroke-width="1.25" stroke-dasharray="3,2" stroke-linejoin="round"/>
<path d="M189.9,433.5 L204.2,433.5 L204.2,433.5 L204.8,433.4 L205.5,433.3 L206.2,433.2 L206.8,433.1 L207.5,432.9 L208.2,432.8 L208.9,432.3 L209.5,432 L210.2,431.4 L210.9,430.9 L211.6,430.6 L212.2,429.6 L212.9,428.4 L213.6,427.7 L214.2,427 L214.9,426 L215.6,424.6 L216.3,423.5 L216.9,423 L217.6,421.6 L218.3,420.7 L219,418.9 L219.6,417.5 L220.3,416.3 L221,415 L221.7,413.9 L222.3,412.1 L223,411.1 L223.7,409.8 L224.3,408 L225,406.8 L225.7,405.9 L226.4,405.2 L227,404.9 L227.7,402.4 L228.4,400.4 L229.1,396.9 L229.7,393.8 L230.4,390.6 L231.1,388.2 L231.8,387.6 L232.4,386.9 L233.5,383.8 L234.4,378.6 L235.4,379.3 L236.5,385.6 L237.3,389.8 L238.1,393.7 L239,395.8 L239.8,397.5 L240.5,402.4 L241.2,406.8 L241.8,411.9 L242.5,416.2 L243.5,424.6 L244.5,431.2 L245.6,433.5 L245.6,433.5 L255.3,433.5" fill="none" stroke="#000" stroke-width="1.35" stroke-linejoin="round"/>
</g>
<rect x="189.9" y="368.3" width="65.4" height="65.2" fill="none" stroke="#a2a2a2" stroke-width="1"/>
<line x1="194.0" y1="435.1" x2="207.0" y2="435.1" stroke="#8a8a8a" stroke-width="1" stroke-dasharray="1.6,0.7"/>
<line x1="207.0" y1="435.1" x2="248.0" y2="435.1" stroke="#c4c4c4" stroke-width="0.9" stroke-dasharray="1.2,1.3"/>
<g>
<path d="M263.8,433.5 L268.7,433.5 L268.7,433.5 L269.4,433.1 L270.1,432.7 L270.8,432.3 L271.4,431.9 L272.1,430.9 L272.8,429.3 L273.4,428 L274.1,426.9 L274.8,425.8 L275.5,423.9 L276.1,422.1 L276.8,420.6 L277.5,417.7 L278.2,415.1 L278.8,412.5 L279.5,409.3 L280.2,406.3 L280.8,403.3 L281.5,399.5 L282.2,395.9 L282.9,392.4 L283.5,388 L284.2,384 L284.9,381.6 L285.6,378.8 L286.2,377.6 L286.9,375.7 L287.6,375.9 L288.2,376.2 L288.9,375.8 L289.6,376.6 L290.3,377.1 L291.3,381.6 L292,385.5 L292.7,389.3 L293.4,393.6 L294,397.2 L294.8,402.2 L295.7,407.2 L296.5,411.3 L297.3,414.9 L298.1,418 L299,420.7 L299.7,421.4 L300.4,422.7 L301,423.8 L301.7,424.2 L302.4,424.3 L303.1,424.4 L303.7,424.7 L304.4,424.5 L305.1,424.5 L305.8,425 L306.4,425.2 L307.1,425.7 L307.8,426.7 L308.4,427.3 L309.1,428.6 L309.8,430 L310.5,431.2 L311.1,432.3 L311.8,433.2 L312.5,433.4 L313.2,433.5 L313.2,433.5 L329.2,433.5" fill="none" stroke="#8a8a8a" stroke-width="1.25" stroke-linejoin="round"/>
<path d="M263.8,433.5 L275.5,433.5 L275.5,433.5 L279.5,432.6 L282.9,431.2 L285.6,429.2 L288.2,425.8 L290.9,420.4 L293.6,415.1 L296.3,410.3 L299,407.7 L301.3,405 L303.1,400.2 L304.4,394.9 L305.8,388.1 L307.1,382.1 L308.4,378.4 L309.4,376.7 L310.2,378.7 L311,385.4 L311.8,393.5 L312.8,401.6 L313.7,409.7 L314.8,417.8 L315.8,424.5 L317.2,429.9 L318.5,432.8 L319.6,433.5 L319.6,433.5 L329.2,433.5" fill="none" stroke="#000" stroke-width="1.25" stroke-dasharray="3,2" stroke-linejoin="round"/>
<path d="M263.8,433.5 L274.1,433.5 L274.1,433.5 L274.8,433.4 L275.5,433.3 L276.1,433.2 L276.8,433.1 L277.5,432.9 L278.2,432.8 L278.8,432.6 L279.5,432.2 L280.2,431.9 L280.8,431.6 L281.5,431.5 L282.2,431.3 L282.9,430.6 L283.5,430.2 L284.2,430 L284.9,429.7 L285.6,429 L286.2,429 L286.9,428.5 L287.6,428.6 L288.2,428.1 L288.9,427.7 L289.6,427.7 L290.3,427.7 L290.9,427.4 L291.6,426.9 L292.3,426.7 L293,426.6 L293.6,426.5 L294.3,426.2 L295,425.5 L295.7,425.5 L296.5,424.8 L297.3,424.3 L298,423.8 L298.7,422.9 L299.4,421.9 L300.1,420.4 L300.7,419.2 L301.3,418 L302,414.9 L302.7,412.3 L303.3,408.1 L304,404 L304.7,399.3 L305.3,395 L306,390.9 L306.7,387.1 L307.4,383.5 L308,379.9 L308.7,378.1 L309.4,376.6 L310.5,375.6 L311.4,378.6 L312.5,387 L313.2,391.7 L313.8,396.5 L314.5,401.4 L315.2,406.7 L315.8,411.5 L316.5,416.2 L317.2,419.5 L317.9,423.1 L318.5,425.8 L319.2,428.2 L319.9,430.2 L320.6,431.8 L321.2,432.7 L321.9,433.5 L321.9,433.5 L329.2,433.5" fill="none" stroke="#000" stroke-width="1.35" stroke-linejoin="round"/>
</g>
<rect x="263.8" y="368.3" width="65.4" height="65.2" fill="none" stroke="#a2a2a2" stroke-width="1"/>
<line x1="268.0" y1="435.1" x2="281.0" y2="435.1" stroke="#8a8a8a" stroke-width="1" stroke-dasharray="1.6,0.7"/>
<line x1="281.0" y1="435.1" x2="322.0" y2="435.1" stroke="#c4c4c4" stroke-width="0.9" stroke-dasharray="1.2,1.3"/>
<g>
<path d="M42.4,507.4 L49.4,507.4 L49.4,507.4 L50.1,507.1 L50.8,506.9 L51.4,506.5 L52.1,506.3 L52.8,506.1 L53.5,505.7 L54.1,505.3 L54.8,504.9 L55.5,504.4 L56.2,503.7 L56.8,503 L57.5,502.4 L58.2,501.4 L58.8,500.9 L59.5,499.7 L60.3,497.6 L61,495.9 L61.8,494.6 L62.5,491.9 L63.2,489.9 L64,487.7 L64.6,485.3 L65.2,483.4 L65.8,480.6 L66.7,477.6 L67.6,473.8 L68.3,470.6 L68.9,467.4 L69.6,463.7 L70.3,461 L71,458 L71.6,455 L72.3,452.9 L73,450.5 L73.9,452.5 L75,456.3 L76.1,461.7 L76.8,465.4 L77.4,468.9 L78.2,472.6 L79,476.6 L79.8,480.4 L80.7,483.4 L81.5,486 L82.4,489.3 L83.1,491.9 L83.8,494.1 L84.4,497 L85.1,499.9 L85.8,501.9 L86.4,504.7 L87.1,506 L87.8,507.4 L87.8,507.4 L107.8,507.4" fill="none" stroke="#8a8a8a" stroke-width="1.25" stroke-linejoin="round"/>
<path d="M42.4,507.4 L53.5,507.4 L53.5,507.4 L58.8,506.7 L62.9,506.2 L66.2,505.4 L68.9,504.4 L71,502.7 L72.6,499.7 L73.9,494.3 L75.3,486.3 L76.3,478.2 L77.4,470.1 L78.5,462 L79.6,455.3 L80.7,451.3 L81.7,453.3 L82.8,460.7 L83.9,471.5 L85,483.6 L86,495.7 L87.1,505.1 L88.2,507.4 L88.2,507.4 L107.8,507.4" fill="none" stroke="#000" stroke-width="1.25" stroke-dasharray="3,2" stroke-linejoin="round"/>
<path d="M42.4,507.4 L50.8,507.4 L50.8,507.4 L51.4,507.3 L52.1,507.3 L52.8,507.2 L53.5,507.2 L54.1,507.1 L54.8,507.1 L55.5,507 L56.2,507 L56.8,506.9 L57.5,506.9 L58.2,506.8 L58.8,506.7 L59.5,506.7 L60.2,506.6 L60.9,506.6 L61.5,506.5 L62.2,506.3 L62.9,506.3 L63.6,506.2 L64.2,505.9 L64.9,506 L65.6,505.9 L66.2,505.6 L66.9,505.5 L67.6,505.4 L68.3,505.2 L68.9,504.7 L69.5,504.1 L70.1,503.7 L70.7,502.8 L71.5,501.6 L72.3,499.8 L73,497.1 L73.7,494.6 L74.3,489.4 L75,484.7 L75.7,479.7 L76.3,474.1 L77,469 L77.7,463.5 L78.4,459.2 L79,455 L80.1,451.2 L81.2,449.4 L82.3,452.9 L83.3,462.1 L84.4,474 L85.5,487.7 L86.4,499.9 L87.4,506.4 L88.5,507.4 L88.5,507.4 L107.8,507.4" fill="none" stroke="#000" stroke-width="1.35" stroke-linejoin="round"/>
</g>
<rect x="42.4" y="442.1" width="65.4" height="65.3" fill="none" stroke="#a2a2a2" stroke-width="1"/>
<line x1="46.0" y1="509.0" x2="59.0" y2="509.0" stroke="#8a8a8a" stroke-width="1" stroke-dasharray="1.6,0.7"/>
<line x1="59.0" y1="509.0" x2="100.0" y2="509.0" stroke="#c4c4c4" stroke-width="0.9" stroke-dasharray="1.2,1.3"/>
<g>
<path d="M116.2,507.4 L123.4,507.4 L123.4,507.4 L124.1,507.3 L124.8,507.2 L125.4,507.1 L126.1,507 L126.8,506.8 L127.5,506.7 L128.1,506.2 L128.8,505.9 L129.5,505.3 L130.2,504.8 L130.8,504.7 L131.5,503.4 L132.2,502.1 L132.8,500.8 L133.5,499.8 L134.2,497.8 L134.9,495 L135.5,493.3 L136.2,490.3 L136.9,487.7 L137.6,484.7 L138.4,480.9 L139.3,476.8 L140,473 L140.7,469 L141.5,463.9 L142.3,459 L142.9,456.3 L143.6,453.6 L144.3,451.4 L145,449.6 L145.6,450.4 L146.3,451.2 L147,453.4 L147.7,455.3 L148.3,457.4 L149,459.7 L149.7,461.1 L150.3,463.6 L151.4,470 L152.1,474 L152.8,477.9 L153.4,482.3 L154.1,486.4 L154.9,489.4 L155.7,493.3 L156.4,495.6 L157.1,498.1 L157.9,501.1 L158.7,503.1 L159.6,505 L160.4,506.4 L161.1,506.8 L161.8,507.1 L162.5,507.4 L162.5,507.4 L181.6,507.4" fill="none" stroke="#8a8a8a" stroke-width="1.25" stroke-linejoin="round"/>
<path d="M116.2,507.4 L130.2,507.4 L130.2,507.4 L134.2,507 L138.2,506.5 L141.6,505.4 L143.9,503.1 L145.6,498.4 L147,491.6 L148.3,482.2 L149.7,471.5 L151,460.7 L152,454 L153,449.2 L154.1,451.3 L155.2,458 L156.4,467.4 L157.8,479.5 L159.1,491.6 L160.2,501.1 L161.1,506.5 L162.5,507.4 L162.5,507.4 L181.6,507.4" fill="none" stroke="#000" stroke-width="1.25" stroke-dasharray="3,2" stroke-linejoin="round"/>
<path d="M116.2,507.4 L128.8,507.4 L128.8,507.4 L129.5,507.3 L130.2,507.3 L130.8,507.2 L131.5,507.2 L132.2,507.1 L132.8,507.1 L133.5,507 L134.2,507 L134.9,506.9 L135.5,506.8 L136.2,506.7 L136.9,506.6 L137.6,506.6 L138.2,506.4 L138.9,506.3 L139.6,505.9 L140.2,505.5 L140.9,505.3 L141.6,505.3 L142.4,504.4 L143.1,503 L143.9,502.5 L144.8,500 L145.6,496.9 L146.3,493 L147,488.9 L147.7,484.2 L148.3,479.3 L149,474.2 L149.7,468.5 L150.3,463.3 L150.9,457.9 L152,451.2 L152.8,447.8 L153.8,450.8 L154.5,454.4 L155.1,457.8 L155.7,463.5 L156.4,468.8 L157.1,474.8 L157.8,481.1 L158.4,487.2 L159.1,492.9 L160.2,501.3 L161.1,506.5 L161.8,506.9 L162.5,507.4 L162.5,507.4 L181.6,507.4" fill="none" stroke="#000" stroke-width="1.35" stroke-linejoin="round"/>
</g>
<rect x="116.2" y="442.1" width="65.4" height="65.3" fill="none" stroke="#a2a2a2" stroke-width="1"/>
<line x1="120.0" y1="509.0" x2="133.0" y2="509.0" stroke="#8a8a8a" stroke-width="1" stroke-dasharray="1.6,0.7"/>
<line x1="133.0" y1="509.0" x2="174.0" y2="509.0" stroke="#c4c4c4" stroke-width="0.9" stroke-dasharray="1.2,1.3"/>
<g>
<path d="M189.9,507.4 L198.8,507.4 L198.8,507.4 L199.4,507.2 L200.1,507 L200.8,506.8 L201.5,506.6 L202.1,506.4 L202.8,506.3 L203.5,505.4 L204.2,505 L204.8,504.3 L205.5,503.9 L206.2,503.3 L206.8,502 L207.5,501 L208.2,499.3 L208.9,498.1 L209.5,496 L210.2,493.7 L210.9,491.7 L211.6,489 L212.2,486.6 L212.9,483.4 L213.8,479.6 L214.7,475.2 L215.3,471.8 L216,467.1 L216.9,460.6 L217.6,458.9 L218.3,456.8 L219,455.9 L219.6,455.1 L220.3,455.6 L221,456 L221.9,460.9 L223,468.5 L224.1,477 L224.8,481.1 L225.4,485 L226.2,489.1 L227,493 L227.8,496.7 L228.7,500 L229.4,501.4 L230.1,502.9 L230.8,504.3 L231.6,505.1 L232.3,505.8 L233.1,506.5 L233.8,506.7 L234.4,506.9 L235.1,507.2 L235.8,507.4 L235.8,507.4 L255.3,507.4" fill="none" stroke="#8a8a8a" stroke-width="1.25" stroke-linejoin="round"/>
<path d="M189.9,507.4 L204.2,507.4 L204.2,507.4 L208.2,506.7 L211.6,504.4 L214.2,500.4 L216.5,494.3 L218.7,487.6 L220.6,480.9 L222.3,474.1 L223.7,466.1 L225,460.7 L226.4,456.6 L227.7,454 L229.1,455.3 L230.4,458 L231.8,463.4 L233.1,470.1 L234.4,478.2 L235.8,486.3 L237.1,494.3 L238.5,501.1 L239.8,505.8 L241.2,507.4 L241.2,507.4 L255.3,507.4" fill="none" stroke="#000" stroke-width="1.25" stroke-dasharray="3,2" stroke-linejoin="round"/>
<path d="M189.9,507.4 L204.2,507.4 L204.2,507.4 L204.8,507.3 L205.5,507.3 L206.2,507.2 L206.8,507.1 L207.5,507.1 L208.2,507 L208.9,506.7 L209.5,506.4 L210.2,506.4 L210.9,506 L211.6,505.7 L212.2,505 L212.9,504.1 L213.6,503.4 L214.2,502.6 L215,500.4 L215.8,499 L216.5,497 L217.3,495 L218,493.3 L218.7,491.5 L219.3,490 L219.9,488 L220.6,486.4 L221.5,482.8 L222.3,479.3 L223.2,476.1 L224.1,472.8 L224.9,470 L225.7,467.5 L226.5,464.9 L227.3,462.3 L228.2,459.9 L229.1,457.9 L229.7,456.9 L230.4,455.1 L231.3,454.2 L232.4,455.1 L233.5,459.3 L234.2,461.9 L234.8,464.8 L235.5,467.8 L236.2,471.2 L236.9,476.3 L237.5,481.1 L238.3,485.5 L239.2,490.5 L240,494.2 L240.8,498.3 L241.4,501.2 L242.1,504 L242.8,505.3 L243.5,506.7 L244.3,507.1 L245.2,507.4 L245.2,507.4 L255.3,507.4" fill="none" stroke="#000" stroke-width="1.35" stroke-linejoin="round"/>
</g>
<rect x="189.9" y="442.1" width="65.4" height="65.3" fill="none" stroke="#a2a2a2" stroke-width="1"/>
<line x1="194.0" y1="509.0" x2="207.0" y2="509.0" stroke="#8a8a8a" stroke-width="1" stroke-dasharray="1.6,0.7"/>
<line x1="207.0" y1="509.0" x2="248.0" y2="509.0" stroke="#c4c4c4" stroke-width="0.9" stroke-dasharray="1.2,1.3"/>
<g>
<path d="M263.8,507.4 L268.7,507.4 L268.7,507.4 L269.4,506.9 L270.1,506.5 L270.7,505.9 L271.4,505.7 L272.1,504.9 L272.8,504.2 L273.5,502.8 L274.1,502.2 L274.8,500.8 L275.5,499.5 L276.1,497.6 L276.8,496 L277.5,493.2 L278.1,491 L278.8,488.7 L279.5,486.5 L280.1,483.6 L280.8,481.3 L281.6,476.6 L282.5,472.9 L283.1,468.6 L283.8,465 L284.5,461.2 L285.1,458.2 L285.8,456 L286.5,454.7 L287.1,453.6 L287.8,452.7 L288.5,453.8 L289.2,455.4 L289.9,458.5 L290.5,462.3 L291.5,470.1 L292.1,472.5 L292.7,474.4 L293.4,476.6 L294,479.1 L294.6,481.5 L295.3,484.7 L296.1,488 L296.8,491.6 L297.6,492.9 L298.3,494.5 L299.1,495.8 L299.9,495.8 L300.6,495.7 L301.4,496 L302.2,493.9 L303,492.2 L303.7,490.7 L304.4,489.4 L305,489.5 L305.7,490.3 L306.3,490.5 L307.1,492.6 L307.9,495.1 L308.5,496.7 L309.2,498.3 L309.8,499.9 L310.5,500.9 L311.3,502.2 L312,503.6 L312.8,504.8 L313.6,506.4 L314.3,506.9 L315,507.4 L315,507.4 L329.2,507.4" fill="none" stroke="#8a8a8a" stroke-width="1.25" stroke-linejoin="round"/>
<path d="M263.8,507.4 L276.8,507.4 L276.8,507.4 L280,506.5 L284,505.4 L287.6,504.8 L291,504.5 L294.3,504 L297.6,502.5 L300.6,497.5 L302.9,490 L304.4,481 L305.1,472 L306.3,463 L307,457.2 L308.5,451.1 L309.5,450 L311.2,454.9 L311.6,461 L312.3,466.3 L313.1,470.9 L313.9,476.2 L314.3,481.4 L315.5,490.5 L316.6,500.4 L318.1,505.7 L319.5,507.4 L319.5,507.4 L329.2,507.4" fill="none" stroke="#000" stroke-width="1.25" stroke-dasharray="3,2" stroke-linejoin="round"/>
<path d="M263.8,507.4 L268,507.4 L268,507.4 L268.7,507.2 L269.4,507.1 L270.1,506.9 L270.8,506.8 L271.5,506.8 L272.1,506.7 L272.8,506.7 L273.5,506.7 L274.1,506.6 L274.8,506.5 L275.5,506.5 L276.2,506.4 L276.8,506.4 L277.5,506.4 L278.1,506.3 L278.8,506.1 L279.5,506.1 L280.1,506.1 L280.8,505.9 L281.5,505.8 L282.2,505.6 L282.8,505.4 L283.5,505.2 L284.2,505 L284.9,504.5 L285.5,504.2 L286.2,504.1 L286.9,504.1 L287.6,503.9 L288.2,504.2 L288.9,504.4 L289.6,504.1 L290.3,504.5 L291,504.3 L291.6,504.6 L292.3,504.7 L293,504.4 L293.6,504.4 L294.3,504.3 L295,504.5 L295.8,504 L296.5,503.8 L297.3,503.1 L297.9,502.8 L298.6,502.4 L299.2,501.7 L299.9,501.2 L300.7,499.6 L301.4,497.6 L302.2,496.1 L302.9,492.4 L303.7,488.8 L304.4,484.6 L305,479.8 L305.8,474.4 L306.6,468.6 L307.4,460.8 L308.2,453.3 L308.8,451.5 L309.5,450.4 L310.1,448.3 L311.2,451 L311.9,454.1 L312.7,457.5 L313.9,463.4 L315,471.2 L316.1,477.9 L316.8,480 L317.4,482.7 L318.1,485.1 L318.7,490 L319.4,494.4 L320,498.9 L321.2,505 L321.9,506.2 L322.5,507.2 L323.2,507.3 L324,507.4 L324,507.4 L329.2,507.4" fill="none" stroke="#000" stroke-width="1.35" stroke-linejoin="round"/>
</g>
<rect x="263.8" y="442.1" width="65.4" height="65.3" fill="none" stroke="#a2a2a2" stroke-width="1"/>
<line x1="268.0" y1="509.0" x2="281.0" y2="509.0" stroke="#8a8a8a" stroke-width="1" stroke-dasharray="1.6,0.7"/>
<line x1="281.0" y1="509.0" x2="322.0" y2="509.0" stroke="#c4c4c4" stroke-width="0.9" stroke-dasharray="1.2,1.3"/>
<!-- panel letters -->
<text class="L" x="1" y="19.8">A</text>
<text class="L" x="0.5" y="202">B</text>
<text class="L" x="0.5" y="382.5">C</text>
<!-- row labels -->
<text class="b" transform="translate(32.7,56.8) rotate(-90) scale(1.07,1)">CD8<tspan class="al" font-size="14.5">α</tspan><tspan class="sup" dx="0.6" dy="-4.8">+</tspan></text>
<text class="b" transform="translate(32.7,136.3) rotate(-90) scale(1.07,1)">SIRP<tspan class="al" font-size="14.5">α</tspan><tspan class="sup" dx="0.6" dy="-4.8">+</tspan></text>
<text class="b" transform="translate(32.7,240.2) rotate(-90) scale(1.07,1)">CD8<tspan class="al" font-size="14.5">α</tspan><tspan class="sup" dx="0.6" dy="-4.8">+</tspan></text>
<text class="b" transform="translate(32.7,319.4) rotate(-90) scale(1.07,1)">SIRP<tspan class="al" font-size="14.5">α</tspan><tspan class="sup" dx="0.6" dy="-4.8">+</tspan></text>
<text class="b" transform="translate(32.7,418.7) rotate(-90) scale(1.07,1)">CD8<tspan class="al" font-size="14.5">α</tspan><tspan class="sup" dx="0.6" dy="-4.8">+</tspan></text>
<text class="b" transform="translate(32.9,500.3) rotate(-90) scale(1.07,1)">SIRP<tspan class="al" font-size="14.5">α</tspan><tspan class="sup" dx="0.6" dy="-4.8">+</tspan></text>
<!-- column labels -->
<g class="b">
<text transform="translate(66,160.8) scale(1.05,1)">IA<tspan font-size="8" dy="-4.5">g7</tspan></text>
<text transform="translate(150,160.8) scale(1.05,1)" text-anchor="middle">CD40</text>
<text transform="translate(224,160.8) scale(1.05,1)" text-anchor="middle">CD80</text>
<text transform="translate(296,160.8) scale(1.05,1)" text-anchor="middle">CD86</text>
<text transform="translate(66,346.2) scale(1.05,1)">IA<tspan font-size="8" dy="-4.5">g7</tspan></text>
<text transform="translate(150,346.2) scale(1.05,1)" text-anchor="middle">CD40</text>
<text transform="translate(224,346.2) scale(1.05,1)" text-anchor="middle">CD80</text>
<text transform="translate(296,346.2) scale(1.05,1)" text-anchor="middle">CD86</text>
<text transform="translate(66,523.8) scale(1.05,1)">IA<tspan font-size="8" dy="-4.5">g7</tspan></text>
<text transform="translate(150,523.8) scale(1.05,1)" text-anchor="middle">CD40</text>
<text transform="translate(224,523.8) scale(1.05,1)" text-anchor="middle">CD80</text>
<text transform="translate(296,523.8) scale(1.05,1)" text-anchor="middle">CD86</text>
</g>
<!-- legend A -->
<rect x="345.3" y="37.4" width="164.7" height="87.2" fill="none" stroke="#000" stroke-width="2.1"/>
<rect x="359.5" y="45.5" width="12" height="12" fill="#fff" stroke="#8a8a8a" stroke-width="2"/>
<rect x="358.5" y="63.5" width="14" height="14" fill="#8a8a8a"/>
<rect x="359.5" y="83" width="12" height="12.5" fill="#fff" stroke="#000" stroke-width="2"/>
<rect x="358.5" y="101" width="14" height="15" fill="#000"/>
<g class="b">
<text transform="translate(382.4,56) scale(1.07,1)">NOD.TCR<tspan class="al" font-size="13">α</tspan><tspan font-size="7" font-weight="normal" dy="-5">-/-</tspan><tspan dy="5"> Ctrl</tspan></text>
<text transform="translate(382.4,75) scale(1.07,1)">NOD.TCR<tspan class="al" font-size="13">α</tspan><tspan font-size="7" font-weight="normal" dy="-5">-/-</tspan><tspan dy="5"> </tspan><tspan class="al" font-size="13">α</tspan>CD40</text>
<text transform="translate(382.4,94) scale(1.07,1)">NOD Ctrl</text>
<text transform="translate(382.4,113) scale(1.07,1)">NOD <tspan class="al" font-size="13">α</tspan>CD40</text>
</g>
<!-- legend B -->
<rect x="345.3" y="231.2" width="171.7" height="59.2" fill="none" stroke="#000" stroke-width="2.1"/>
<line x1="354.7" y1="244" x2="374.6" y2="244" stroke="#000" stroke-width="2.4" stroke-dasharray="9,1.8"/>
<line x1="354.7" y1="259.6" x2="374.6" y2="259.6" stroke="#000" stroke-width="2.7"/>
<line x1="354.7" y1="276.4" x2="374.6" y2="276.4" stroke="#888" stroke-width="2.5"/>
<g class="b">
<text transform="translate(381.5,248.4) scale(1.07,1)"><tspan class="al" font-size="13">α</tspan>CD40L + 5 <tspan class="al" font-size="13">μ</tspan>g sBDC</text>
<text transform="translate(381.5,263.6) scale(1.07,1)">PBS + 5 <tspan class="al" font-size="13">μ</tspan>g sBDC</text>
<text transform="translate(381.5,281) scale(1.07,1)">No Peptide</text>
</g>
<!-- legend C -->
<rect x="345.3" y="407" width="164.4" height="59.2" fill="none" stroke="#000" stroke-width="2.1"/>
<line x1="358.7" y1="421" x2="378.4" y2="421" stroke="#000" stroke-width="2.4" stroke-dasharray="9,1.8"/>
<line x1="358.7" y1="435.3" x2="378.4" y2="435.3" stroke="#000" stroke-width="2.7"/>
<line x1="358.7" y1="451.6" x2="378.4" y2="451.6" stroke="#888" stroke-width="2.5"/>
<g class="b">
<text transform="translate(386.7,424) scale(1.07,1)"><tspan class="al" font-size="13">α</tspan>CD40L + 5 <tspan class="al" font-size="13">μ</tspan>g HA</text>
<text transform="translate(386.7,439.1) scale(1.07,1)">PBS + 5 <tspan class="al" font-size="13">μ</tspan>g HA</text>
<text transform="translate(386.7,455.9) scale(1.07,1)">No Peptide</text>
</g>
<path d="M95.60,38.00 L95.60,35.70 M95.60,38.00 L97.79,37.29 M95.60,38.00 L96.95,39.86 M95.60,38.00 L94.25,39.86 M95.60,38.00 L93.41,37.29 " stroke="#000" stroke-width="1.6" stroke-linecap="round" fill="none"/>
<path d="M102.35,38.00 L102.35,35.70 M102.35,38.00 L104.54,37.29 M102.35,38.00 L103.70,39.86 M102.35,38.00 L101.00,39.86 M102.35,38.00 L100.16,37.29 " stroke="#000" stroke-width="1.6" stroke-linecap="round" fill="none"/>
<path d="M162.90,38.00 L162.90,35.70 M162.90,38.00 L165.09,37.29 M162.90,38.00 L164.25,39.86 M162.90,38.00 L161.55,39.86 M162.90,38.00 L160.71,37.29 " stroke="#000" stroke-width="1.6" stroke-linecap="round" fill="none"/>
<path d="M169.65,38.00 L169.65,35.70 M169.65,38.00 L171.84,37.29 M169.65,38.00 L171.00,39.86 M169.65,38.00 L168.30,39.86 M169.65,38.00 L167.46,37.29 " stroke="#000" stroke-width="1.6" stroke-linecap="round" fill="none"/>
<path d="M176.40,38.00 L176.40,35.70 M176.40,38.00 L178.59,37.29 M176.40,38.00 L177.75,39.86 M176.40,38.00 L175.05,39.86 M176.40,38.00 L174.21,37.29 " stroke="#000" stroke-width="1.6" stroke-linecap="round" fill="none"/>
<path d="M249.00,37.40 L249.00,35.10 M249.00,37.40 L251.19,36.69 M249.00,37.40 L250.35,39.26 M249.00,37.40 L247.65,39.26 M249.00,37.40 L246.81,36.69 " stroke="#000" stroke-width="1.6" stroke-linecap="round" fill="none"/>
<path d="M245.80,111.20 L245.80,108.90 M245.80,111.20 L247.99,110.49 M245.80,111.20 L247.15,113.06 M245.80,111.20 L244.45,113.06 M245.80,111.20 L243.61,110.49 " stroke="#000" stroke-width="1.6" stroke-linecap="round" fill="none"/>
<path d="M252.55,111.20 L252.55,108.90 M252.55,111.20 L254.74,110.49 M252.55,111.20 L253.90,113.06 M252.55,111.20 L251.20,113.06 M252.55,111.20 L250.36,110.49 " stroke="#000" stroke-width="1.6" stroke-linecap="round" fill="none"/>
<path d="M259.30,111.20 L259.30,108.90 M259.30,111.20 L261.49,110.49 M259.30,111.20 L260.65,113.06 M259.30,111.20 L257.95,113.06 M259.30,111.20 L257.11,110.49 " stroke="#000" stroke-width="1.6" stroke-linecap="round" fill="none"/>
<path d="M324.30,111.20 L324.30,108.90 M324.30,111.20 L326.49,110.49 M324.30,111.20 L325.65,113.06 M324.30,111.20 L322.95,113.06 M324.30,111.20 L322.11,110.49 " stroke="#000" stroke-width="1.6" stroke-linecap="round" fill="none"/>
<path d="M331.05,111.20 L331.05,108.90 M331.05,111.20 L333.24,110.49 M331.05,111.20 L332.40,113.06 M331.05,111.20 L329.70,113.06 M331.05,111.20 L328.86,110.49 " stroke="#000" stroke-width="1.6" stroke-linecap="round" fill="none"/>
<path d="M337.80,111.20 L337.80,108.90 M337.80,111.20 L339.99,110.49 M337.80,111.20 L339.15,113.06 M337.80,111.20 L336.45,113.06 M337.80,111.20 L335.61,110.49 " stroke="#000" stroke-width="1.6" stroke-linecap="round" fill="none"/>
<path d="M96.90,196.40 L96.90,194.10 M96.90,196.40 L99.09,195.69 M96.90,196.40 L98.25,198.26 M96.90,196.40 L95.55,198.26 M96.90,196.40 L94.71,195.69 " stroke="#000" stroke-width="1.6" stroke-linecap="round" fill="none"/>
<path d="M164.90,195.40 L164.90,193.10 M164.90,195.40 L167.09,194.69 M164.90,195.40 L166.25,197.26 M164.90,195.40 L163.55,197.26 M164.90,195.40 L162.71,194.69 " stroke="#000" stroke-width="1.6" stroke-linecap="round" fill="none"/>
<path d="M171.65,195.40 L171.65,193.10 M171.65,195.40 L173.84,194.69 M171.65,195.40 L173.00,197.26 M171.65,195.40 L170.30,197.26 M171.65,195.40 L169.46,194.69 " stroke="#000" stroke-width="1.6" stroke-linecap="round" fill="none"/>
<path d="M178.40,195.40 L178.40,193.10 M178.40,195.40 L180.59,194.69 M178.40,195.40 L179.75,197.26 M178.40,195.40 L177.05,197.26 M178.40,195.40 L176.21,194.69 " stroke="#000" stroke-width="1.6" stroke-linecap="round" fill="none"/>
<path d="M324.30,196.40 L324.30,194.10 M324.30,196.40 L326.49,195.69 M324.30,196.40 L325.65,198.26 M324.30,196.40 L322.95,198.26 M324.30,196.40 L322.11,195.69 " stroke="#000" stroke-width="1.6" stroke-linecap="round" fill="none"/>
<path d="M164.10,269.40 L164.10,267.10 M164.10,269.40 L166.29,268.69 M164.10,269.40 L165.45,271.26 M164.10,269.40 L162.75,271.26 M164.10,269.40 L161.91,268.69 " stroke="#000" stroke-width="1.6" stroke-linecap="round" fill="none"/>
<path d="M170.85,269.40 L170.85,267.10 M170.85,269.40 L173.04,268.69 M170.85,269.40 L172.20,271.26 M170.85,269.40 L169.50,271.26 M170.85,269.40 L168.66,268.69 " stroke="#000" stroke-width="1.6" stroke-linecap="round" fill="none"/>
<path d="M177.60,269.40 L177.60,267.10 M177.60,269.40 L179.79,268.69 M177.60,269.40 L178.95,271.26 M177.60,269.40 L176.25,271.26 M177.60,269.40 L175.41,268.69 " stroke="#000" stroke-width="1.6" stroke-linecap="round" fill="none"/>
<path d="M243.60,269.40 L243.60,267.10 M243.60,269.40 L245.79,268.69 M243.60,269.40 L244.95,271.26 M243.60,269.40 L242.25,271.26 M243.60,269.40 L241.41,268.69 " stroke="#000" stroke-width="1.6" stroke-linecap="round" fill="none"/>
<path d="M250.35,269.40 L250.35,267.10 M250.35,269.40 L252.54,268.69 M250.35,269.40 L251.70,271.26 M250.35,269.40 L249.00,271.26 M250.35,269.40 L248.16,268.69 " stroke="#000" stroke-width="1.6" stroke-linecap="round" fill="none"/>
<path d="M312.10,269.40 L312.10,267.10 M312.10,269.40 L314.29,268.69 M312.10,269.40 L313.45,271.26 M312.10,269.40 L310.75,271.26 M312.10,269.40 L309.91,268.69 " stroke="#000" stroke-width="1.6" stroke-linecap="round" fill="none"/>
<path d="M318.85,269.40 L318.85,267.10 M318.85,269.40 L321.04,268.69 M318.85,269.40 L320.20,271.26 M318.85,269.40 L317.50,271.26 M318.85,269.40 L316.66,268.69 " stroke="#000" stroke-width="1.6" stroke-linecap="round" fill="none"/>
<path d="M325.60,269.40 L325.60,267.10 M325.60,269.40 L327.79,268.69 M325.60,269.40 L326.95,271.26 M325.60,269.40 L324.25,271.26 M325.60,269.40 L323.41,268.69 " stroke="#000" stroke-width="1.6" stroke-linecap="round" fill="none"/>
<path d="M247.60,375.80 L247.60,373.50 M247.60,375.80 L249.79,375.09 M247.60,375.80 L248.95,377.66 M247.60,375.80 L246.25,377.66 M247.60,375.80 L245.41,375.09 " stroke="#000" stroke-width="1.6" stroke-linecap="round" fill="none"/>
<path d="M247.60,449.80 L247.60,447.50 M247.60,449.80 L249.79,449.09 M247.60,449.80 L248.95,451.66 M247.60,449.80 L246.25,451.66 M247.60,449.80 L245.41,449.09 " stroke="#000" stroke-width="1.6" stroke-linecap="round" fill="none"/>
</svg>
</body></html>
